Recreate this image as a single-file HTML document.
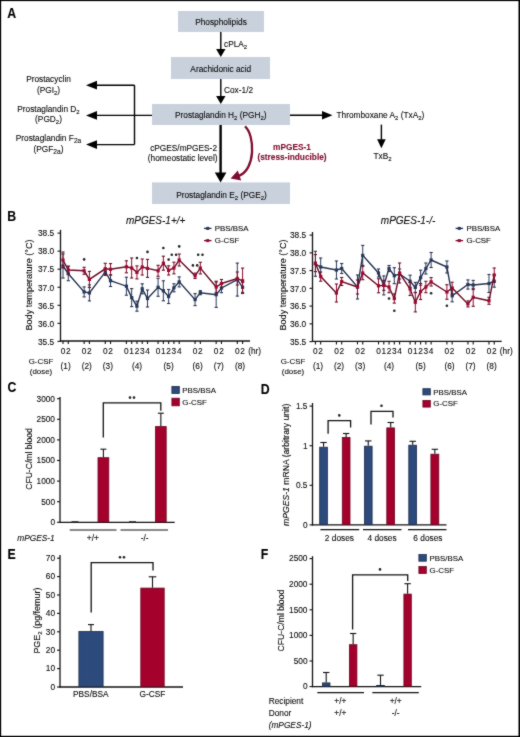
<!DOCTYPE html>
<html><head><meta charset="utf-8"><style>
html,body{margin:0;padding:0;background:#fff;}
body{width:520px;height:737px;overflow:hidden;}
svg{display:block;font-family:"Liberation Sans",sans-serif;}
text{stroke:currentColor;stroke-width:0.1px;}
</style></head><body>
<svg width="520" height="737" viewBox="0 0 520 737">
<defs><filter id="bl" x="0" y="0" width="520" height="737" filterUnits="userSpaceOnUse" color-interpolation-filters="sRGB"><feConvolveMatrix order="3" kernelMatrix="1 2 1 2 20 2 1 2 1" edgeMode="duplicate" preserveAlpha="true"/></filter></defs>
<g filter="url(#bl)">
<rect x="0" y="0" width="520" height="737" fill="#fff"/>
<text transform="translate(7.6,17.6) scale(1.06,1.2)" x="-0.3" y="0" font-size="11.6" font-weight="bold" fill="#000" style="color:#000">A</text>
<rect x="178" y="11" width="86" height="21" fill="#c9d1dc" />
<rect x="171" y="57" width="99" height="22" fill="#c9d1dc" />
<rect x="152" y="104" width="138" height="21" fill="#c9d1dc" />
<rect x="152" y="182.4" width="138" height="21.599999999999994" fill="#c9d1dc" />
<text x="221" y="25.0552" font-size="8.3" text-anchor="middle" font-weight="normal" font-style="normal" fill="#0a0a0a" style="color:#0a0a0a" >Phospholipids</text>
<text x="220.8" y="72.0552" font-size="8.3" text-anchor="middle" font-weight="normal" font-style="normal" fill="#0a0a0a" style="color:#0a0a0a" >Arachidonic acid</text>
<text x="220.8" y="118.1552" font-size="8.3" text-anchor="middle" font-weight="normal" font-style="normal" fill="#0a0a0a" style="color:#0a0a0a" >Prostaglandin H<tspan font-size="5.98" dy="2.2">2</tspan><tspan dy="-2.2">&#8203;</tspan> (PGH<tspan font-size="5.98" dy="2.2">2</tspan><tspan dy="-2.2">&#8203;</tspan>)</text>
<text x="221.5" y="197.55519999999999" font-size="8.3" text-anchor="middle" font-weight="normal" font-style="normal" fill="#0a0a0a" style="color:#0a0a0a" >Prostaglandin E<tspan font-size="5.98" dy="2.2">2</tspan><tspan dy="-2.2">&#8203;</tspan> (PGE<tspan font-size="5.98" dy="2.2">2</tspan><tspan dy="-2.2">&#8203;</tspan>)</text>
<text x="224" y="46.855199999999996" font-size="8.3" text-anchor="start" font-weight="normal" font-style="normal" fill="#0a0a0a" style="color:#0a0a0a" >cPLA<tspan font-size="5.98" dy="2.2">2</tspan><tspan dy="-2.2">&#8203;</tspan></text>
<text x="224" y="93.2552" font-size="8.3" text-anchor="start" font-weight="normal" font-style="normal" fill="#0a0a0a" style="color:#0a0a0a" >Cox-1/2</text>
<line x1="220.8" y1="32" x2="220.8" y2="49.5" stroke="#000" stroke-width="1.4" />
<polygon points="216.10000000000002,49 225.5,49 220.8,57" fill="#000"/>
<line x1="220.8" y1="79" x2="220.8" y2="96.5" stroke="#000" stroke-width="1.4" />
<polygon points="216.10000000000002,96 225.5,96 220.8,104" fill="#000"/>
<line x1="220.6" y1="125" x2="220.6" y2="173.0" stroke="#000" stroke-width="2.4" />
<polygon points="214.79999999999998,172.5 226.4,172.5 220.6,182.5" fill="#000"/>
<line x1="152" y1="115.4" x2="96.5" y2="115.4" stroke="#000" stroke-width="1.4" />
<polygon points="97,111.0 97,119.80000000000001 86,115.4" fill="#000"/>
<line x1="134.5" y1="85.2" x2="134.5" y2="144.6" stroke="#000" stroke-width="1.4" />
<line x1="134.5" y1="85.2" x2="96.5" y2="85.2" stroke="#000" stroke-width="1.4" />
<polygon points="97,80.8 97,89.60000000000001 86,85.2" fill="#000"/>
<line x1="134.5" y1="144.6" x2="96.5" y2="144.6" stroke="#000" stroke-width="1.4" />
<polygon points="97,140.2 97,149.0 86,144.6" fill="#000"/>
<line x1="290" y1="115.2" x2="322.5" y2="115.2" stroke="#000" stroke-width="1.4" />
<polygon points="322.0,110.9 322.0,119.5 332.5,115.2" fill="#000"/>
<line x1="381.4" y1="124.6" x2="381.4" y2="139.8" stroke="#000" stroke-width="1.4" />
<polygon points="377.09999999999997,139.3 385.7,139.3 381.4,148.3" fill="#000"/>
<text x="48.5" y="82.0552" font-size="8.3" text-anchor="middle" font-weight="normal" font-style="normal" fill="#0a0a0a" style="color:#0a0a0a" >Prostacyclin</text>
<text x="48.5" y="92.7552" font-size="8.3" text-anchor="middle" font-weight="normal" font-style="normal" fill="#0a0a0a" style="color:#0a0a0a" >(PGI<tspan font-size="5.98" dy="2.2">2</tspan><tspan dy="-2.2">&#8203;</tspan>)</text>
<text x="48.5" y="111.7552" font-size="8.3" text-anchor="middle" font-weight="normal" font-style="normal" fill="#0a0a0a" style="color:#0a0a0a" >Prostaglandin D<tspan font-size="5.98" dy="2.2">2</tspan><tspan dy="-2.2">&#8203;</tspan></text>
<text x="48.5" y="122.0552" font-size="8.3" text-anchor="middle" font-weight="normal" font-style="normal" fill="#0a0a0a" style="color:#0a0a0a" >(PGD<tspan font-size="5.98" dy="2.2">2</tspan><tspan dy="-2.2">&#8203;</tspan>)</text>
<text x="48.5" y="141.15519999999998" font-size="8.3" text-anchor="middle" font-weight="normal" font-style="normal" fill="#0a0a0a" style="color:#0a0a0a" >Prostaglandin F<tspan font-size="6.64" dy="2.0">2a</tspan><tspan dy="-2.0">&#8203;</tspan></text>
<text x="48.5" y="152.05519999999999" font-size="8.3" text-anchor="middle" font-weight="normal" font-style="normal" fill="#0a0a0a" style="color:#0a0a0a" >(PGF<tspan font-size="6.64" dy="2.0">2a</tspan><tspan dy="-2.0">&#8203;</tspan>)</text>
<text x="217" y="150.8552" font-size="8.3" text-anchor="end" font-weight="normal" font-style="normal" fill="#0a0a0a" style="color:#0a0a0a" >cPGES/mPGES-2</text>
<text x="217.5" y="160.55519999999999" font-size="8.3" text-anchor="end" font-weight="normal" font-style="normal" fill="#0a0a0a" style="color:#0a0a0a" >(homeostatic level)</text>
<text x="336.5" y="118.1552" font-size="8.3" text-anchor="start" font-weight="normal" font-style="normal" fill="#0a0a0a" style="color:#0a0a0a" >Thromboxane A<tspan font-size="5.98" dy="2.2">2</tspan><tspan dy="-2.2">&#8203;</tspan> (TxA<tspan font-size="5.98" dy="2.2">2</tspan><tspan dy="-2.2">&#8203;</tspan>)</text>
<text x="373.5" y="159.05519999999999" font-size="8.3" text-anchor="start" font-weight="normal" font-style="normal" fill="#0a0a0a" style="color:#0a0a0a" >TxB<tspan font-size="5.98" dy="2.2">2</tspan><tspan dy="-2.2">&#8203;</tspan></text>
<text x="292" y="149.55519999999999" font-size="8.3" text-anchor="middle" font-weight="bold" font-style="normal" fill="#7f0c2f" style="color:#7f0c2f" >mPGES-1</text>
<text x="292" y="159.8552" font-size="8.3" text-anchor="middle" font-weight="bold" font-style="normal" fill="#7f0c2f" style="color:#7f0c2f" >(stress-inducible)</text>
<path d="M245,126.4 C255,135 256,170 238.5,175.8" fill="none" stroke="#7f0c2f" stroke-width="2.3"/>
<polygon points="230.6,178.5 237.8,170.6 241.2,180.5" fill="#7f0c2f"/>
<text transform="translate(7.6,220.8) scale(1.06,1.2)" x="-0.3" y="0" font-size="11.6" font-weight="bold" fill="#000" style="color:#000">B</text>
<line x1="60.5" y1="229.8" x2="60.5" y2="341.5" stroke="#111" stroke-width="1.3" />
<line x1="59.9" y1="341" x2="250.088" y2="341" stroke="#111" stroke-width="1.3" />
<line x1="57.5" y1="233.1" x2="60.5" y2="233.1" stroke="#111" stroke-width="1.1" />
<text x="54.1" y="236.3552" font-size="8.3" text-anchor="end" font-weight="normal" font-style="normal" fill="#0a0a0a" style="color:#0a0a0a" >38.5</text>
<line x1="57.5" y1="251.15" x2="60.5" y2="251.15" stroke="#111" stroke-width="1.1" />
<text x="54.1" y="254.4052" font-size="8.3" text-anchor="end" font-weight="normal" font-style="normal" fill="#0a0a0a" style="color:#0a0a0a" >38.0</text>
<line x1="57.5" y1="269.2" x2="60.5" y2="269.2" stroke="#111" stroke-width="1.1" />
<text x="54.1" y="272.4552" font-size="8.3" text-anchor="end" font-weight="normal" font-style="normal" fill="#0a0a0a" style="color:#0a0a0a" >37.5</text>
<line x1="57.5" y1="287.25" x2="60.5" y2="287.25" stroke="#111" stroke-width="1.1" />
<text x="54.1" y="290.5052" font-size="8.3" text-anchor="end" font-weight="normal" font-style="normal" fill="#0a0a0a" style="color:#0a0a0a" >37.0</text>
<line x1="57.5" y1="305.3" x2="60.5" y2="305.3" stroke="#111" stroke-width="1.1" />
<text x="54.1" y="308.5552" font-size="8.3" text-anchor="end" font-weight="normal" font-style="normal" fill="#0a0a0a" style="color:#0a0a0a" >36.5</text>
<line x1="57.5" y1="323.35" x2="60.5" y2="323.35" stroke="#111" stroke-width="1.1" />
<text x="54.1" y="326.6052" font-size="8.3" text-anchor="end" font-weight="normal" font-style="normal" fill="#0a0a0a" style="color:#0a0a0a" >36.0</text>
<line x1="57.5" y1="341.4" x2="60.5" y2="341.4" stroke="#111" stroke-width="1.1" />
<text x="54.1" y="344.6552" font-size="8.3" text-anchor="end" font-weight="normal" font-style="normal" fill="#0a0a0a" style="color:#0a0a0a" >35.5</text>
<line x1="63.0" y1="341" x2="63.0" y2="344" stroke="#111" stroke-width="1.1" />
<line x1="68.282" y1="341" x2="68.282" y2="344" stroke="#111" stroke-width="1.1" />
<line x1="84.128" y1="341" x2="84.128" y2="344" stroke="#111" stroke-width="1.1" />
<line x1="89.41" y1="341" x2="89.41" y2="344" stroke="#111" stroke-width="1.1" />
<line x1="105.256" y1="341" x2="105.256" y2="344" stroke="#111" stroke-width="1.1" />
<line x1="110.538" y1="341" x2="110.538" y2="344" stroke="#111" stroke-width="1.1" />
<line x1="126.384" y1="341" x2="126.384" y2="344" stroke="#111" stroke-width="1.1" />
<line x1="131.666" y1="341" x2="131.666" y2="344" stroke="#111" stroke-width="1.1" />
<line x1="136.948" y1="341" x2="136.948" y2="344" stroke="#111" stroke-width="1.1" />
<line x1="142.23000000000002" y1="341" x2="142.23000000000002" y2="344" stroke="#111" stroke-width="1.1" />
<line x1="147.512" y1="341" x2="147.512" y2="344" stroke="#111" stroke-width="1.1" />
<line x1="158.076" y1="341" x2="158.076" y2="344" stroke="#111" stroke-width="1.1" />
<line x1="163.358" y1="341" x2="163.358" y2="344" stroke="#111" stroke-width="1.1" />
<line x1="168.64" y1="341" x2="168.64" y2="344" stroke="#111" stroke-width="1.1" />
<line x1="173.922" y1="341" x2="173.922" y2="344" stroke="#111" stroke-width="1.1" />
<line x1="179.204" y1="341" x2="179.204" y2="344" stroke="#111" stroke-width="1.1" />
<line x1="195.05" y1="341" x2="195.05" y2="344" stroke="#111" stroke-width="1.1" />
<line x1="200.332" y1="341" x2="200.332" y2="344" stroke="#111" stroke-width="1.1" />
<line x1="216.178" y1="341" x2="216.178" y2="344" stroke="#111" stroke-width="1.1" />
<line x1="221.46" y1="341" x2="221.46" y2="344" stroke="#111" stroke-width="1.1" />
<line x1="237.306" y1="341" x2="237.306" y2="344" stroke="#111" stroke-width="1.1" />
<line x1="242.588" y1="341" x2="242.588" y2="344" stroke="#111" stroke-width="1.1" />
<text x="63.0" y="353.8552" font-size="8.3" text-anchor="middle" font-weight="normal" font-style="normal" fill="#0a0a0a" style="color:#0a0a0a" >0</text>
<text x="68.282" y="353.8552" font-size="8.3" text-anchor="middle" font-weight="normal" font-style="normal" fill="#0a0a0a" style="color:#0a0a0a" >2</text>
<text x="84.128" y="353.8552" font-size="8.3" text-anchor="middle" font-weight="normal" font-style="normal" fill="#0a0a0a" style="color:#0a0a0a" >0</text>
<text x="89.41" y="353.8552" font-size="8.3" text-anchor="middle" font-weight="normal" font-style="normal" fill="#0a0a0a" style="color:#0a0a0a" >2</text>
<text x="105.256" y="353.8552" font-size="8.3" text-anchor="middle" font-weight="normal" font-style="normal" fill="#0a0a0a" style="color:#0a0a0a" >0</text>
<text x="110.538" y="353.8552" font-size="8.3" text-anchor="middle" font-weight="normal" font-style="normal" fill="#0a0a0a" style="color:#0a0a0a" >2</text>
<text x="126.384" y="353.8552" font-size="8.3" text-anchor="middle" font-weight="normal" font-style="normal" fill="#0a0a0a" style="color:#0a0a0a" >0</text>
<text x="131.666" y="353.8552" font-size="8.3" text-anchor="middle" font-weight="normal" font-style="normal" fill="#0a0a0a" style="color:#0a0a0a" >1</text>
<text x="136.948" y="353.8552" font-size="8.3" text-anchor="middle" font-weight="normal" font-style="normal" fill="#0a0a0a" style="color:#0a0a0a" >2</text>
<text x="142.23000000000002" y="353.8552" font-size="8.3" text-anchor="middle" font-weight="normal" font-style="normal" fill="#0a0a0a" style="color:#0a0a0a" >3</text>
<text x="147.512" y="353.8552" font-size="8.3" text-anchor="middle" font-weight="normal" font-style="normal" fill="#0a0a0a" style="color:#0a0a0a" >4</text>
<text x="158.076" y="353.8552" font-size="8.3" text-anchor="middle" font-weight="normal" font-style="normal" fill="#0a0a0a" style="color:#0a0a0a" >0</text>
<text x="163.358" y="353.8552" font-size="8.3" text-anchor="middle" font-weight="normal" font-style="normal" fill="#0a0a0a" style="color:#0a0a0a" >1</text>
<text x="168.64" y="353.8552" font-size="8.3" text-anchor="middle" font-weight="normal" font-style="normal" fill="#0a0a0a" style="color:#0a0a0a" >2</text>
<text x="173.922" y="353.8552" font-size="8.3" text-anchor="middle" font-weight="normal" font-style="normal" fill="#0a0a0a" style="color:#0a0a0a" >3</text>
<text x="179.204" y="353.8552" font-size="8.3" text-anchor="middle" font-weight="normal" font-style="normal" fill="#0a0a0a" style="color:#0a0a0a" >4</text>
<text x="195.05" y="353.8552" font-size="8.3" text-anchor="middle" font-weight="normal" font-style="normal" fill="#0a0a0a" style="color:#0a0a0a" >0</text>
<text x="200.332" y="353.8552" font-size="8.3" text-anchor="middle" font-weight="normal" font-style="normal" fill="#0a0a0a" style="color:#0a0a0a" >2</text>
<text x="216.178" y="353.8552" font-size="8.3" text-anchor="middle" font-weight="normal" font-style="normal" fill="#0a0a0a" style="color:#0a0a0a" >0</text>
<text x="221.46" y="353.8552" font-size="8.3" text-anchor="middle" font-weight="normal" font-style="normal" fill="#0a0a0a" style="color:#0a0a0a" >2</text>
<text x="237.306" y="353.8552" font-size="8.3" text-anchor="middle" font-weight="normal" font-style="normal" fill="#0a0a0a" style="color:#0a0a0a" >0</text>
<text x="242.588" y="353.8552" font-size="8.3" text-anchor="middle" font-weight="normal" font-style="normal" fill="#0a0a0a" style="color:#0a0a0a" >2</text>
<text x="248.188" y="353.8552" font-size="8.3" text-anchor="start" font-weight="normal" font-style="normal" fill="#0a0a0a" style="color:#0a0a0a" >(hr)</text>
<text x="65.641" y="368.8552" font-size="8.3" text-anchor="middle" font-weight="normal" font-style="normal" fill="#0a0a0a" style="color:#0a0a0a" >(1)</text>
<text x="86.769" y="368.8552" font-size="8.3" text-anchor="middle" font-weight="normal" font-style="normal" fill="#0a0a0a" style="color:#0a0a0a" >(2)</text>
<text x="107.89699999999999" y="368.8552" font-size="8.3" text-anchor="middle" font-weight="normal" font-style="normal" fill="#0a0a0a" style="color:#0a0a0a" >(3)</text>
<text x="136.948" y="368.8552" font-size="8.3" text-anchor="middle" font-weight="normal" font-style="normal" fill="#0a0a0a" style="color:#0a0a0a" >(4)</text>
<text x="168.64" y="368.8552" font-size="8.3" text-anchor="middle" font-weight="normal" font-style="normal" fill="#0a0a0a" style="color:#0a0a0a" >(5)</text>
<text x="197.691" y="368.8552" font-size="8.3" text-anchor="middle" font-weight="normal" font-style="normal" fill="#0a0a0a" style="color:#0a0a0a" >(6)</text>
<text x="218.819" y="368.8552" font-size="8.3" text-anchor="middle" font-weight="normal" font-style="normal" fill="#0a0a0a" style="color:#0a0a0a" >(7)</text>
<text x="239.947" y="368.8552" font-size="8.3" text-anchor="middle" font-weight="normal" font-style="normal" fill="#0a0a0a" style="color:#0a0a0a" >(8)</text>
<line x1="63.0" y1="254" x2="63.0" y2="278" stroke="#2c3a5c" stroke-width="1.0" />
<line x1="61.4" y1="254" x2="64.6" y2="254" stroke="#243150" stroke-width="1.1" />
<line x1="61.4" y1="278" x2="64.6" y2="278" stroke="#243150" stroke-width="1.1" />
<line x1="68.282" y1="266.7" x2="68.282" y2="280.7" stroke="#2c3a5c" stroke-width="1.0" />
<line x1="66.682" y1="266.7" x2="69.88199999999999" y2="266.7" stroke="#243150" stroke-width="1.1" />
<line x1="66.682" y1="280.7" x2="69.88199999999999" y2="280.7" stroke="#243150" stroke-width="1.1" />
<line x1="84.128" y1="286.9" x2="84.128" y2="296.9" stroke="#2c3a5c" stroke-width="1.0" />
<line x1="82.528" y1="286.9" x2="85.728" y2="286.9" stroke="#243150" stroke-width="1.1" />
<line x1="82.528" y1="296.9" x2="85.728" y2="296.9" stroke="#243150" stroke-width="1.1" />
<line x1="89.41" y1="284.9" x2="89.41" y2="300.9" stroke="#2c3a5c" stroke-width="1.0" />
<line x1="87.81" y1="284.9" x2="91.00999999999999" y2="284.9" stroke="#243150" stroke-width="1.1" />
<line x1="87.81" y1="300.9" x2="91.00999999999999" y2="300.9" stroke="#243150" stroke-width="1.1" />
<line x1="105.256" y1="268.4" x2="105.256" y2="275.4" stroke="#2c3a5c" stroke-width="1.0" />
<line x1="103.656" y1="268.4" x2="106.856" y2="268.4" stroke="#243150" stroke-width="1.1" />
<line x1="103.656" y1="275.4" x2="106.856" y2="275.4" stroke="#243150" stroke-width="1.1" />
<line x1="110.538" y1="274.9" x2="110.538" y2="286.5" stroke="#2c3a5c" stroke-width="1.0" />
<line x1="108.938" y1="274.9" x2="112.13799999999999" y2="274.9" stroke="#243150" stroke-width="1.1" />
<line x1="108.938" y1="286.5" x2="112.13799999999999" y2="286.5" stroke="#243150" stroke-width="1.1" />
<line x1="126.384" y1="277.2" x2="126.384" y2="295.2" stroke="#2c3a5c" stroke-width="1.0" />
<line x1="124.784" y1="277.2" x2="127.984" y2="277.2" stroke="#243150" stroke-width="1.1" />
<line x1="124.784" y1="295.2" x2="127.984" y2="295.2" stroke="#243150" stroke-width="1.1" />
<line x1="131.666" y1="288.6" x2="131.666" y2="306.6" stroke="#2c3a5c" stroke-width="1.0" />
<line x1="130.066" y1="288.6" x2="133.266" y2="288.6" stroke="#243150" stroke-width="1.1" />
<line x1="130.066" y1="306.6" x2="133.266" y2="306.6" stroke="#243150" stroke-width="1.1" />
<line x1="136.948" y1="301.2" x2="136.948" y2="311.2" stroke="#2c3a5c" stroke-width="1.0" />
<line x1="135.348" y1="301.2" x2="138.548" y2="301.2" stroke="#243150" stroke-width="1.1" />
<line x1="135.348" y1="311.2" x2="138.548" y2="311.2" stroke="#243150" stroke-width="1.1" />
<line x1="142.23000000000002" y1="283.8" x2="142.23000000000002" y2="293.8" stroke="#2c3a5c" stroke-width="1.0" />
<line x1="140.63000000000002" y1="283.8" x2="143.83" y2="283.8" stroke="#243150" stroke-width="1.1" />
<line x1="140.63000000000002" y1="293.8" x2="143.83" y2="293.8" stroke="#243150" stroke-width="1.1" />
<line x1="147.512" y1="290.0" x2="147.512" y2="307.0" stroke="#2c3a5c" stroke-width="1.0" />
<line x1="145.912" y1="290.0" x2="149.112" y2="290.0" stroke="#243150" stroke-width="1.1" />
<line x1="145.912" y1="307.0" x2="149.112" y2="307.0" stroke="#243150" stroke-width="1.1" />
<line x1="158.076" y1="278.3" x2="158.076" y2="296.3" stroke="#2c3a5c" stroke-width="1.0" />
<line x1="156.476" y1="278.3" x2="159.676" y2="278.3" stroke="#243150" stroke-width="1.1" />
<line x1="156.476" y1="296.3" x2="159.676" y2="296.3" stroke="#243150" stroke-width="1.1" />
<line x1="163.358" y1="280.8" x2="163.358" y2="300.8" stroke="#2c3a5c" stroke-width="1.0" />
<line x1="161.758" y1="280.8" x2="164.958" y2="280.8" stroke="#243150" stroke-width="1.1" />
<line x1="161.758" y1="300.8" x2="164.958" y2="300.8" stroke="#243150" stroke-width="1.1" />
<line x1="168.64" y1="289.5" x2="168.64" y2="303.5" stroke="#2c3a5c" stroke-width="1.0" />
<line x1="167.04" y1="289.5" x2="170.23999999999998" y2="289.5" stroke="#243150" stroke-width="1.1" />
<line x1="167.04" y1="303.5" x2="170.23999999999998" y2="303.5" stroke="#243150" stroke-width="1.1" />
<line x1="173.922" y1="283.8" x2="173.922" y2="291.8" stroke="#2c3a5c" stroke-width="1.0" />
<line x1="172.322" y1="283.8" x2="175.522" y2="283.8" stroke="#243150" stroke-width="1.1" />
<line x1="172.322" y1="291.8" x2="175.522" y2="291.8" stroke="#243150" stroke-width="1.1" />
<line x1="179.204" y1="276.9" x2="179.204" y2="286.9" stroke="#2c3a5c" stroke-width="1.0" />
<line x1="177.604" y1="276.9" x2="180.804" y2="276.9" stroke="#243150" stroke-width="1.1" />
<line x1="177.604" y1="286.9" x2="180.804" y2="286.9" stroke="#243150" stroke-width="1.1" />
<line x1="195.05" y1="293.6" x2="195.05" y2="305.6" stroke="#2c3a5c" stroke-width="1.0" />
<line x1="193.45000000000002" y1="293.6" x2="196.65" y2="293.6" stroke="#243150" stroke-width="1.1" />
<line x1="193.45000000000002" y1="305.6" x2="196.65" y2="305.6" stroke="#243150" stroke-width="1.1" />
<line x1="200.332" y1="290.7" x2="200.332" y2="294.7" stroke="#2c3a5c" stroke-width="1.0" />
<line x1="198.732" y1="290.7" x2="201.932" y2="290.7" stroke="#243150" stroke-width="1.1" />
<line x1="198.732" y1="294.7" x2="201.932" y2="294.7" stroke="#243150" stroke-width="1.1" />
<line x1="216.178" y1="282.0" x2="216.178" y2="307.4" stroke="#2c3a5c" stroke-width="1.0" />
<line x1="214.578" y1="282.0" x2="217.778" y2="282.0" stroke="#243150" stroke-width="1.1" />
<line x1="214.578" y1="307.4" x2="217.778" y2="307.4" stroke="#243150" stroke-width="1.1" />
<line x1="221.46" y1="283.3" x2="221.46" y2="292.7" stroke="#2c3a5c" stroke-width="1.0" />
<line x1="219.86" y1="283.3" x2="223.06" y2="283.3" stroke="#243150" stroke-width="1.1" />
<line x1="219.86" y1="292.7" x2="223.06" y2="292.7" stroke="#243150" stroke-width="1.1" />
<line x1="237.306" y1="263.1" x2="237.306" y2="296.1" stroke="#2c3a5c" stroke-width="1.0" />
<line x1="235.70600000000002" y1="263.1" x2="238.906" y2="263.1" stroke="#243150" stroke-width="1.1" />
<line x1="235.70600000000002" y1="296.1" x2="238.906" y2="296.1" stroke="#243150" stroke-width="1.1" />
<line x1="242.588" y1="282.3" x2="242.588" y2="292.3" stroke="#2c3a5c" stroke-width="1.0" />
<line x1="240.988" y1="282.3" x2="244.188" y2="282.3" stroke="#243150" stroke-width="1.1" />
<line x1="240.988" y1="292.3" x2="244.188" y2="292.3" stroke="#243150" stroke-width="1.1" />
<polyline points="63.0,266.0 68.3,273.7 84.1,291.9 89.4,292.9 105.3,271.9 110.5,280.7 126.4,286.2 131.7,297.6 136.9,306.2 142.2,288.8 147.5,298.5 158.1,287.3 163.4,290.8 168.6,296.5 173.9,287.8 179.2,281.9 195.1,299.6 200.3,292.7 216.2,294.7 221.5,288.0 237.3,279.6 242.6,287.3" fill="none" stroke="#243150" stroke-width="1.4"/>
<rect x="61.4" y="264.4" width="3.2" height="3.2" fill="#24365a"/>
<rect x="66.7" y="272.1" width="3.2" height="3.2" fill="#24365a"/>
<rect x="82.5" y="290.3" width="3.2" height="3.2" fill="#24365a"/>
<rect x="87.8" y="291.3" width="3.2" height="3.2" fill="#24365a"/>
<rect x="103.7" y="270.3" width="3.2" height="3.2" fill="#24365a"/>
<rect x="108.9" y="279.1" width="3.2" height="3.2" fill="#24365a"/>
<rect x="124.8" y="284.6" width="3.2" height="3.2" fill="#24365a"/>
<rect x="130.1" y="296.0" width="3.2" height="3.2" fill="#24365a"/>
<rect x="135.3" y="304.6" width="3.2" height="3.2" fill="#24365a"/>
<rect x="140.6" y="287.2" width="3.2" height="3.2" fill="#24365a"/>
<rect x="145.9" y="296.9" width="3.2" height="3.2" fill="#24365a"/>
<rect x="156.5" y="285.7" width="3.2" height="3.2" fill="#24365a"/>
<rect x="161.8" y="289.2" width="3.2" height="3.2" fill="#24365a"/>
<rect x="167.0" y="294.9" width="3.2" height="3.2" fill="#24365a"/>
<rect x="172.3" y="286.2" width="3.2" height="3.2" fill="#24365a"/>
<rect x="177.6" y="280.3" width="3.2" height="3.2" fill="#24365a"/>
<rect x="193.5" y="298.0" width="3.2" height="3.2" fill="#24365a"/>
<rect x="198.7" y="291.1" width="3.2" height="3.2" fill="#24365a"/>
<rect x="214.6" y="293.1" width="3.2" height="3.2" fill="#24365a"/>
<rect x="219.9" y="286.4" width="3.2" height="3.2" fill="#24365a"/>
<rect x="235.7" y="278.0" width="3.2" height="3.2" fill="#24365a"/>
<rect x="241.0" y="285.7" width="3.2" height="3.2" fill="#24365a"/>
<line x1="63.0" y1="252" x2="63.0" y2="268" stroke="#8a0b2e" stroke-width="1.0" />
<line x1="61.4" y1="252" x2="64.6" y2="252" stroke="#690b27" stroke-width="1.1" />
<line x1="61.4" y1="268" x2="64.6" y2="268" stroke="#690b27" stroke-width="1.1" />
<line x1="68.282" y1="266" x2="68.282" y2="274" stroke="#8a0b2e" stroke-width="1.0" />
<line x1="66.682" y1="266" x2="69.88199999999999" y2="266" stroke="#690b27" stroke-width="1.1" />
<line x1="66.682" y1="274" x2="69.88199999999999" y2="274" stroke="#690b27" stroke-width="1.1" />
<line x1="84.128" y1="267.3" x2="84.128" y2="274.3" stroke="#8a0b2e" stroke-width="1.0" />
<line x1="82.528" y1="267.3" x2="85.728" y2="267.3" stroke="#690b27" stroke-width="1.1" />
<line x1="82.528" y1="274.3" x2="85.728" y2="274.3" stroke="#690b27" stroke-width="1.1" />
<line x1="89.41" y1="271.4" x2="89.41" y2="287.4" stroke="#8a0b2e" stroke-width="1.0" />
<line x1="87.81" y1="271.4" x2="91.00999999999999" y2="271.4" stroke="#690b27" stroke-width="1.1" />
<line x1="87.81" y1="287.4" x2="91.00999999999999" y2="287.4" stroke="#690b27" stroke-width="1.1" />
<line x1="105.256" y1="263.3" x2="105.256" y2="274.3" stroke="#8a0b2e" stroke-width="1.0" />
<line x1="103.656" y1="263.3" x2="106.856" y2="263.3" stroke="#690b27" stroke-width="1.1" />
<line x1="103.656" y1="274.3" x2="106.856" y2="274.3" stroke="#690b27" stroke-width="1.1" />
<line x1="110.538" y1="263.6" x2="110.538" y2="275.0" stroke="#8a0b2e" stroke-width="1.0" />
<line x1="108.938" y1="263.6" x2="112.13799999999999" y2="263.6" stroke="#690b27" stroke-width="1.1" />
<line x1="108.938" y1="275.0" x2="112.13799999999999" y2="275.0" stroke="#690b27" stroke-width="1.1" />
<line x1="126.384" y1="260.8" x2="126.384" y2="272.8" stroke="#8a0b2e" stroke-width="1.0" />
<line x1="124.784" y1="260.8" x2="127.984" y2="260.8" stroke="#690b27" stroke-width="1.1" />
<line x1="124.784" y1="272.8" x2="127.984" y2="272.8" stroke="#690b27" stroke-width="1.1" />
<line x1="131.666" y1="258" x2="131.666" y2="278" stroke="#8a0b2e" stroke-width="1.0" />
<line x1="130.066" y1="258" x2="133.266" y2="258" stroke="#690b27" stroke-width="1.1" />
<line x1="130.066" y1="278" x2="133.266" y2="278" stroke="#690b27" stroke-width="1.1" />
<line x1="136.948" y1="265.9" x2="136.948" y2="278.9" stroke="#8a0b2e" stroke-width="1.0" />
<line x1="135.348" y1="265.9" x2="138.548" y2="265.9" stroke="#690b27" stroke-width="1.1" />
<line x1="135.348" y1="278.9" x2="138.548" y2="278.9" stroke="#690b27" stroke-width="1.1" />
<line x1="142.23000000000002" y1="259" x2="142.23000000000002" y2="275" stroke="#8a0b2e" stroke-width="1.0" />
<line x1="140.63000000000002" y1="259" x2="143.83" y2="259" stroke="#690b27" stroke-width="1.1" />
<line x1="140.63000000000002" y1="275" x2="143.83" y2="275" stroke="#690b27" stroke-width="1.1" />
<line x1="147.512" y1="259.4" x2="147.512" y2="277.4" stroke="#8a0b2e" stroke-width="1.0" />
<line x1="145.912" y1="259.4" x2="149.112" y2="259.4" stroke="#690b27" stroke-width="1.1" />
<line x1="145.912" y1="277.4" x2="149.112" y2="277.4" stroke="#690b27" stroke-width="1.1" />
<line x1="158.076" y1="265.3" x2="158.076" y2="276.3" stroke="#8a0b2e" stroke-width="1.0" />
<line x1="156.476" y1="265.3" x2="159.676" y2="265.3" stroke="#690b27" stroke-width="1.1" />
<line x1="156.476" y1="276.3" x2="159.676" y2="276.3" stroke="#690b27" stroke-width="1.1" />
<line x1="163.358" y1="256.2" x2="163.358" y2="270.2" stroke="#8a0b2e" stroke-width="1.0" />
<line x1="161.758" y1="256.2" x2="164.958" y2="256.2" stroke="#690b27" stroke-width="1.1" />
<line x1="161.758" y1="270.2" x2="164.958" y2="270.2" stroke="#690b27" stroke-width="1.1" />
<line x1="168.64" y1="265.79999999999995" x2="168.64" y2="275.0" stroke="#8a0b2e" stroke-width="1.0" />
<line x1="167.04" y1="265.79999999999995" x2="170.23999999999998" y2="265.79999999999995" stroke="#690b27" stroke-width="1.1" />
<line x1="167.04" y1="275.0" x2="170.23999999999998" y2="275.0" stroke="#690b27" stroke-width="1.1" />
<line x1="173.922" y1="262.2" x2="173.922" y2="273.8" stroke="#8a0b2e" stroke-width="1.0" />
<line x1="172.322" y1="262.2" x2="175.522" y2="262.2" stroke="#690b27" stroke-width="1.1" />
<line x1="172.322" y1="273.8" x2="175.522" y2="273.8" stroke="#690b27" stroke-width="1.1" />
<line x1="179.204" y1="254" x2="179.204" y2="266" stroke="#8a0b2e" stroke-width="1.0" />
<line x1="177.604" y1="254" x2="180.804" y2="254" stroke="#690b27" stroke-width="1.1" />
<line x1="177.604" y1="266" x2="180.804" y2="266" stroke="#690b27" stroke-width="1.1" />
<line x1="195.05" y1="273.1" x2="195.05" y2="278.5" stroke="#8a0b2e" stroke-width="1.0" />
<line x1="193.45000000000002" y1="273.1" x2="196.65" y2="273.1" stroke="#690b27" stroke-width="1.1" />
<line x1="193.45000000000002" y1="278.5" x2="196.65" y2="278.5" stroke="#690b27" stroke-width="1.1" />
<line x1="200.332" y1="262.3" x2="200.332" y2="273.90000000000003" stroke="#8a0b2e" stroke-width="1.0" />
<line x1="198.732" y1="262.3" x2="201.932" y2="262.3" stroke="#690b27" stroke-width="1.1" />
<line x1="198.732" y1="273.90000000000003" x2="201.932" y2="273.90000000000003" stroke="#690b27" stroke-width="1.1" />
<line x1="216.178" y1="281.2" x2="216.178" y2="292.8" stroke="#8a0b2e" stroke-width="1.0" />
<line x1="214.578" y1="281.2" x2="217.778" y2="281.2" stroke="#690b27" stroke-width="1.1" />
<line x1="214.578" y1="292.8" x2="217.778" y2="292.8" stroke="#690b27" stroke-width="1.1" />
<line x1="221.46" y1="279.5" x2="221.46" y2="287.5" stroke="#8a0b2e" stroke-width="1.0" />
<line x1="219.86" y1="279.5" x2="223.06" y2="279.5" stroke="#690b27" stroke-width="1.1" />
<line x1="219.86" y1="287.5" x2="223.06" y2="287.5" stroke="#690b27" stroke-width="1.1" />
<line x1="237.306" y1="272.0" x2="237.306" y2="285.0" stroke="#8a0b2e" stroke-width="1.0" />
<line x1="235.70600000000002" y1="272.0" x2="238.906" y2="272.0" stroke="#690b27" stroke-width="1.1" />
<line x1="235.70600000000002" y1="285.0" x2="238.906" y2="285.0" stroke="#690b27" stroke-width="1.1" />
<line x1="242.588" y1="268.1" x2="242.588" y2="293.5" stroke="#8a0b2e" stroke-width="1.0" />
<line x1="240.988" y1="268.1" x2="244.188" y2="268.1" stroke="#690b27" stroke-width="1.1" />
<line x1="240.988" y1="293.5" x2="244.188" y2="293.5" stroke="#690b27" stroke-width="1.1" />
<polyline points="63.0,260.0 68.3,270.0 84.1,270.8 89.4,279.4 105.3,268.8 110.5,269.3 126.4,266.8 131.7,268.0 136.9,272.4 142.2,267.0 147.5,268.4 158.1,270.8 163.4,263.2 168.6,270.4 173.9,268.0 179.2,260.0 195.1,275.8 200.3,268.1 216.2,287.0 221.5,283.5 237.3,278.5 242.6,280.8" fill="none" stroke="#690b27" stroke-width="1.4"/>
<rect x="61.4" y="258.4" width="3.2" height="3.2" fill="#a0062d"/>
<rect x="66.7" y="268.4" width="3.2" height="3.2" fill="#a0062d"/>
<rect x="82.5" y="269.2" width="3.2" height="3.2" fill="#a0062d"/>
<rect x="87.8" y="277.8" width="3.2" height="3.2" fill="#a0062d"/>
<rect x="103.7" y="267.2" width="3.2" height="3.2" fill="#a0062d"/>
<rect x="108.9" y="267.7" width="3.2" height="3.2" fill="#a0062d"/>
<rect x="124.8" y="265.2" width="3.2" height="3.2" fill="#a0062d"/>
<rect x="130.1" y="266.4" width="3.2" height="3.2" fill="#a0062d"/>
<rect x="135.3" y="270.8" width="3.2" height="3.2" fill="#a0062d"/>
<rect x="140.6" y="265.4" width="3.2" height="3.2" fill="#a0062d"/>
<rect x="145.9" y="266.8" width="3.2" height="3.2" fill="#a0062d"/>
<rect x="156.5" y="269.2" width="3.2" height="3.2" fill="#a0062d"/>
<rect x="161.8" y="261.6" width="3.2" height="3.2" fill="#a0062d"/>
<rect x="167.0" y="268.8" width="3.2" height="3.2" fill="#a0062d"/>
<rect x="172.3" y="266.4" width="3.2" height="3.2" fill="#a0062d"/>
<rect x="177.6" y="258.4" width="3.2" height="3.2" fill="#a0062d"/>
<rect x="193.5" y="274.2" width="3.2" height="3.2" fill="#a0062d"/>
<rect x="198.7" y="266.5" width="3.2" height="3.2" fill="#a0062d"/>
<rect x="214.6" y="285.4" width="3.2" height="3.2" fill="#a0062d"/>
<rect x="219.9" y="281.9" width="3.2" height="3.2" fill="#a0062d"/>
<rect x="235.7" y="276.9" width="3.2" height="3.2" fill="#a0062d"/>
<rect x="241.0" y="279.2" width="3.2" height="3.2" fill="#a0062d"/>
<circle cx="84.128" cy="259.4" r="1.3" fill="#222"/>
<circle cx="136.948" cy="258" r="1.3" fill="#222"/>
<circle cx="147.512" cy="251.9" r="1.3" fill="#222"/>
<circle cx="163.358" cy="248" r="1.3" fill="#222"/>
<circle cx="168.64" cy="259.6" r="1.3" fill="#222"/>
<circle cx="171.772" cy="254.8" r="1.3" fill="#222"/>
<circle cx="176.072" cy="254.8" r="1.3" fill="#222"/>
<circle cx="179.204" cy="246.4" r="1.3" fill="#222"/>
<circle cx="192.9" cy="265.4" r="1.3" fill="#222"/>
<circle cx="197.20000000000002" cy="265.4" r="1.3" fill="#222"/>
<circle cx="198.182" cy="254.8" r="1.3" fill="#222"/>
<circle cx="202.482" cy="254.8" r="1.3" fill="#222"/>
<text x="125.9" y="224.04" font-size="10" text-anchor="start" font-weight="normal" font-style="italic" fill="#0a0a0a" style="color:#0a0a0a" >mPGES-1+/+</text>
<line x1="204" y1="228.4" x2="211.5" y2="228.4" stroke="#243150" stroke-width="1.3" />
<rect x="206.2" y="226.9" width="3" height="3" fill="#24365a"/>
<text x="214.8" y="231.1176" font-size="7.9" text-anchor="start" font-weight="normal" font-style="normal" fill="#0a0a0a" style="color:#0a0a0a" >PBS/BSA</text>
<line x1="204" y1="240.6" x2="211.5" y2="240.6" stroke="#690b27" stroke-width="1.3" />
<rect x="206.2" y="239.1" width="3" height="3" fill="#a0062d"/>
<text x="214.8" y="243.3176" font-size="7.9" text-anchor="start" font-weight="normal" font-style="normal" fill="#0a0a0a" style="color:#0a0a0a" >G-CSF</text>
<text transform="translate(29.2,285) rotate(-90)" x="0" y="3.13" font-size="9.1" text-anchor="middle" fill="#0a0a0a">Body temperature (°C)</text>
<line x1="312.5" y1="232" x2="312.5" y2="341.9" stroke="#111" stroke-width="1.3" />
<line x1="311.9" y1="341.4" x2="501.74" y2="341.4" stroke="#111" stroke-width="1.3" />
<line x1="309.5" y1="235.1" x2="312.5" y2="235.1" stroke="#111" stroke-width="1.1" />
<text x="306.1" y="238.3552" font-size="8.3" text-anchor="end" font-weight="normal" font-style="normal" fill="#0a0a0a" style="color:#0a0a0a" >38.5</text>
<line x1="309.5" y1="252.85" x2="312.5" y2="252.85" stroke="#111" stroke-width="1.1" />
<text x="306.1" y="256.10519999999997" font-size="8.3" text-anchor="end" font-weight="normal" font-style="normal" fill="#0a0a0a" style="color:#0a0a0a" >38.0</text>
<line x1="309.5" y1="270.6" x2="312.5" y2="270.6" stroke="#111" stroke-width="1.1" />
<text x="306.1" y="273.8552" font-size="8.3" text-anchor="end" font-weight="normal" font-style="normal" fill="#0a0a0a" style="color:#0a0a0a" >37.5</text>
<line x1="309.5" y1="288.35" x2="312.5" y2="288.35" stroke="#111" stroke-width="1.1" />
<text x="306.1" y="291.6052" font-size="8.3" text-anchor="end" font-weight="normal" font-style="normal" fill="#0a0a0a" style="color:#0a0a0a" >37.0</text>
<line x1="309.5" y1="306.1" x2="312.5" y2="306.1" stroke="#111" stroke-width="1.1" />
<text x="306.1" y="309.3552" font-size="8.3" text-anchor="end" font-weight="normal" font-style="normal" fill="#0a0a0a" style="color:#0a0a0a" >36.5</text>
<line x1="309.5" y1="323.85" x2="312.5" y2="323.85" stroke="#111" stroke-width="1.1" />
<text x="306.1" y="327.1052" font-size="8.3" text-anchor="end" font-weight="normal" font-style="normal" fill="#0a0a0a" style="color:#0a0a0a" >36.0</text>
<line x1="309.5" y1="341.6" x2="312.5" y2="341.6" stroke="#111" stroke-width="1.1" />
<text x="306.1" y="344.8552" font-size="8.3" text-anchor="end" font-weight="normal" font-style="normal" fill="#0a0a0a" style="color:#0a0a0a" >35.5</text>
<line x1="315.4" y1="341.4" x2="315.4" y2="344.4" stroke="#111" stroke-width="1.1" />
<line x1="320.65999999999997" y1="341.4" x2="320.65999999999997" y2="344.4" stroke="#111" stroke-width="1.1" />
<line x1="336.44" y1="341.4" x2="336.44" y2="344.4" stroke="#111" stroke-width="1.1" />
<line x1="341.7" y1="341.4" x2="341.7" y2="344.4" stroke="#111" stroke-width="1.1" />
<line x1="357.47999999999996" y1="341.4" x2="357.47999999999996" y2="344.4" stroke="#111" stroke-width="1.1" />
<line x1="362.73999999999995" y1="341.4" x2="362.73999999999995" y2="344.4" stroke="#111" stroke-width="1.1" />
<line x1="378.52" y1="341.4" x2="378.52" y2="344.4" stroke="#111" stroke-width="1.1" />
<line x1="383.78" y1="341.4" x2="383.78" y2="344.4" stroke="#111" stroke-width="1.1" />
<line x1="389.03999999999996" y1="341.4" x2="389.03999999999996" y2="344.4" stroke="#111" stroke-width="1.1" />
<line x1="394.29999999999995" y1="341.4" x2="394.29999999999995" y2="344.4" stroke="#111" stroke-width="1.1" />
<line x1="399.55999999999995" y1="341.4" x2="399.55999999999995" y2="344.4" stroke="#111" stroke-width="1.1" />
<line x1="410.08" y1="341.4" x2="410.08" y2="344.4" stroke="#111" stroke-width="1.1" />
<line x1="415.34" y1="341.4" x2="415.34" y2="344.4" stroke="#111" stroke-width="1.1" />
<line x1="420.59999999999997" y1="341.4" x2="420.59999999999997" y2="344.4" stroke="#111" stroke-width="1.1" />
<line x1="425.85999999999996" y1="341.4" x2="425.85999999999996" y2="344.4" stroke="#111" stroke-width="1.1" />
<line x1="431.12" y1="341.4" x2="431.12" y2="344.4" stroke="#111" stroke-width="1.1" />
<line x1="446.9" y1="341.4" x2="446.9" y2="344.4" stroke="#111" stroke-width="1.1" />
<line x1="452.15999999999997" y1="341.4" x2="452.15999999999997" y2="344.4" stroke="#111" stroke-width="1.1" />
<line x1="467.93999999999994" y1="341.4" x2="467.93999999999994" y2="344.4" stroke="#111" stroke-width="1.1" />
<line x1="473.19999999999993" y1="341.4" x2="473.19999999999993" y2="344.4" stroke="#111" stroke-width="1.1" />
<line x1="488.97999999999996" y1="341.4" x2="488.97999999999996" y2="344.4" stroke="#111" stroke-width="1.1" />
<line x1="494.24" y1="341.4" x2="494.24" y2="344.4" stroke="#111" stroke-width="1.1" />
<text x="315.4" y="353.8552" font-size="8.3" text-anchor="middle" font-weight="normal" font-style="normal" fill="#0a0a0a" style="color:#0a0a0a" >0</text>
<text x="320.65999999999997" y="353.8552" font-size="8.3" text-anchor="middle" font-weight="normal" font-style="normal" fill="#0a0a0a" style="color:#0a0a0a" >2</text>
<text x="336.44" y="353.8552" font-size="8.3" text-anchor="middle" font-weight="normal" font-style="normal" fill="#0a0a0a" style="color:#0a0a0a" >0</text>
<text x="341.7" y="353.8552" font-size="8.3" text-anchor="middle" font-weight="normal" font-style="normal" fill="#0a0a0a" style="color:#0a0a0a" >2</text>
<text x="357.47999999999996" y="353.8552" font-size="8.3" text-anchor="middle" font-weight="normal" font-style="normal" fill="#0a0a0a" style="color:#0a0a0a" >0</text>
<text x="362.73999999999995" y="353.8552" font-size="8.3" text-anchor="middle" font-weight="normal" font-style="normal" fill="#0a0a0a" style="color:#0a0a0a" >2</text>
<text x="378.52" y="353.8552" font-size="8.3" text-anchor="middle" font-weight="normal" font-style="normal" fill="#0a0a0a" style="color:#0a0a0a" >0</text>
<text x="383.78" y="353.8552" font-size="8.3" text-anchor="middle" font-weight="normal" font-style="normal" fill="#0a0a0a" style="color:#0a0a0a" >1</text>
<text x="389.03999999999996" y="353.8552" font-size="8.3" text-anchor="middle" font-weight="normal" font-style="normal" fill="#0a0a0a" style="color:#0a0a0a" >2</text>
<text x="394.29999999999995" y="353.8552" font-size="8.3" text-anchor="middle" font-weight="normal" font-style="normal" fill="#0a0a0a" style="color:#0a0a0a" >3</text>
<text x="399.55999999999995" y="353.8552" font-size="8.3" text-anchor="middle" font-weight="normal" font-style="normal" fill="#0a0a0a" style="color:#0a0a0a" >4</text>
<text x="410.08" y="353.8552" font-size="8.3" text-anchor="middle" font-weight="normal" font-style="normal" fill="#0a0a0a" style="color:#0a0a0a" >0</text>
<text x="415.34" y="353.8552" font-size="8.3" text-anchor="middle" font-weight="normal" font-style="normal" fill="#0a0a0a" style="color:#0a0a0a" >1</text>
<text x="420.59999999999997" y="353.8552" font-size="8.3" text-anchor="middle" font-weight="normal" font-style="normal" fill="#0a0a0a" style="color:#0a0a0a" >2</text>
<text x="425.85999999999996" y="353.8552" font-size="8.3" text-anchor="middle" font-weight="normal" font-style="normal" fill="#0a0a0a" style="color:#0a0a0a" >3</text>
<text x="431.12" y="353.8552" font-size="8.3" text-anchor="middle" font-weight="normal" font-style="normal" fill="#0a0a0a" style="color:#0a0a0a" >4</text>
<text x="446.9" y="353.8552" font-size="8.3" text-anchor="middle" font-weight="normal" font-style="normal" fill="#0a0a0a" style="color:#0a0a0a" >0</text>
<text x="452.15999999999997" y="353.8552" font-size="8.3" text-anchor="middle" font-weight="normal" font-style="normal" fill="#0a0a0a" style="color:#0a0a0a" >2</text>
<text x="467.93999999999994" y="353.8552" font-size="8.3" text-anchor="middle" font-weight="normal" font-style="normal" fill="#0a0a0a" style="color:#0a0a0a" >0</text>
<text x="473.19999999999993" y="353.8552" font-size="8.3" text-anchor="middle" font-weight="normal" font-style="normal" fill="#0a0a0a" style="color:#0a0a0a" >2</text>
<text x="488.97999999999996" y="353.8552" font-size="8.3" text-anchor="middle" font-weight="normal" font-style="normal" fill="#0a0a0a" style="color:#0a0a0a" >0</text>
<text x="494.24" y="353.8552" font-size="8.3" text-anchor="middle" font-weight="normal" font-style="normal" fill="#0a0a0a" style="color:#0a0a0a" >2</text>
<text x="499.84000000000003" y="353.8552" font-size="8.3" text-anchor="start" font-weight="normal" font-style="normal" fill="#0a0a0a" style="color:#0a0a0a" >(hr)</text>
<text x="318.03" y="368.8552" font-size="8.3" text-anchor="middle" font-weight="normal" font-style="normal" fill="#0a0a0a" style="color:#0a0a0a" >(1)</text>
<text x="339.07" y="368.8552" font-size="8.3" text-anchor="middle" font-weight="normal" font-style="normal" fill="#0a0a0a" style="color:#0a0a0a" >(2)</text>
<text x="360.10999999999996" y="368.8552" font-size="8.3" text-anchor="middle" font-weight="normal" font-style="normal" fill="#0a0a0a" style="color:#0a0a0a" >(3)</text>
<text x="389.03999999999996" y="368.8552" font-size="8.3" text-anchor="middle" font-weight="normal" font-style="normal" fill="#0a0a0a" style="color:#0a0a0a" >(4)</text>
<text x="420.59999999999997" y="368.8552" font-size="8.3" text-anchor="middle" font-weight="normal" font-style="normal" fill="#0a0a0a" style="color:#0a0a0a" >(5)</text>
<text x="449.53" y="368.8552" font-size="8.3" text-anchor="middle" font-weight="normal" font-style="normal" fill="#0a0a0a" style="color:#0a0a0a" >(6)</text>
<text x="470.56999999999994" y="368.8552" font-size="8.3" text-anchor="middle" font-weight="normal" font-style="normal" fill="#0a0a0a" style="color:#0a0a0a" >(7)</text>
<text x="491.60999999999996" y="368.8552" font-size="8.3" text-anchor="middle" font-weight="normal" font-style="normal" fill="#0a0a0a" style="color:#0a0a0a" >(8)</text>
<line x1="315.4" y1="251.3" x2="315.4" y2="276.3" stroke="#2c3a5c" stroke-width="1.0" />
<line x1="313.79999999999995" y1="251.3" x2="317.0" y2="251.3" stroke="#243150" stroke-width="1.1" />
<line x1="313.79999999999995" y1="276.3" x2="317.0" y2="276.3" stroke="#243150" stroke-width="1.1" />
<line x1="320.65999999999997" y1="258" x2="320.65999999999997" y2="276" stroke="#2c3a5c" stroke-width="1.0" />
<line x1="319.05999999999995" y1="258" x2="322.26" y2="258" stroke="#243150" stroke-width="1.1" />
<line x1="319.05999999999995" y1="276" x2="322.26" y2="276" stroke="#243150" stroke-width="1.1" />
<line x1="336.44" y1="261" x2="336.44" y2="279" stroke="#2c3a5c" stroke-width="1.0" />
<line x1="334.84" y1="261" x2="338.04" y2="261" stroke="#243150" stroke-width="1.1" />
<line x1="334.84" y1="279" x2="338.04" y2="279" stroke="#243150" stroke-width="1.1" />
<line x1="341.7" y1="263.5" x2="341.7" y2="273.5" stroke="#2c3a5c" stroke-width="1.0" />
<line x1="340.09999999999997" y1="263.5" x2="343.3" y2="263.5" stroke="#243150" stroke-width="1.1" />
<line x1="340.09999999999997" y1="273.5" x2="343.3" y2="273.5" stroke="#243150" stroke-width="1.1" />
<line x1="357.47999999999996" y1="275" x2="357.47999999999996" y2="299" stroke="#2c3a5c" stroke-width="1.0" />
<line x1="355.87999999999994" y1="275" x2="359.08" y2="275" stroke="#243150" stroke-width="1.1" />
<line x1="355.87999999999994" y1="299" x2="359.08" y2="299" stroke="#243150" stroke-width="1.1" />
<line x1="362.73999999999995" y1="245.4" x2="362.73999999999995" y2="265.4" stroke="#2c3a5c" stroke-width="1.0" />
<line x1="361.13999999999993" y1="245.4" x2="364.34" y2="245.4" stroke="#243150" stroke-width="1.1" />
<line x1="361.13999999999993" y1="265.4" x2="364.34" y2="265.4" stroke="#243150" stroke-width="1.1" />
<line x1="378.52" y1="269" x2="378.52" y2="277" stroke="#2c3a5c" stroke-width="1.0" />
<line x1="376.91999999999996" y1="269" x2="380.12" y2="269" stroke="#243150" stroke-width="1.1" />
<line x1="376.91999999999996" y1="277" x2="380.12" y2="277" stroke="#243150" stroke-width="1.1" />
<line x1="383.78" y1="275.9" x2="383.78" y2="294.9" stroke="#2c3a5c" stroke-width="1.0" />
<line x1="382.17999999999995" y1="275.9" x2="385.38" y2="275.9" stroke="#243150" stroke-width="1.1" />
<line x1="382.17999999999995" y1="294.9" x2="385.38" y2="294.9" stroke="#243150" stroke-width="1.1" />
<line x1="389.03999999999996" y1="265.5" x2="389.03999999999996" y2="271.5" stroke="#2c3a5c" stroke-width="1.0" />
<line x1="387.43999999999994" y1="265.5" x2="390.64" y2="265.5" stroke="#243150" stroke-width="1.1" />
<line x1="387.43999999999994" y1="271.5" x2="390.64" y2="271.5" stroke="#243150" stroke-width="1.1" />
<line x1="394.29999999999995" y1="267.7" x2="394.29999999999995" y2="283.7" stroke="#2c3a5c" stroke-width="1.0" />
<line x1="392.69999999999993" y1="267.7" x2="395.9" y2="267.7" stroke="#243150" stroke-width="1.1" />
<line x1="392.69999999999993" y1="283.7" x2="395.9" y2="283.7" stroke="#243150" stroke-width="1.1" />
<line x1="399.55999999999995" y1="269" x2="399.55999999999995" y2="279" stroke="#2c3a5c" stroke-width="1.0" />
<line x1="397.9599999999999" y1="269" x2="401.15999999999997" y2="269" stroke="#243150" stroke-width="1.1" />
<line x1="397.9599999999999" y1="279" x2="401.15999999999997" y2="279" stroke="#243150" stroke-width="1.1" />
<line x1="410.08" y1="275.2" x2="410.08" y2="287.2" stroke="#2c3a5c" stroke-width="1.0" />
<line x1="408.47999999999996" y1="275.2" x2="411.68" y2="275.2" stroke="#243150" stroke-width="1.1" />
<line x1="408.47999999999996" y1="287.2" x2="411.68" y2="287.2" stroke="#243150" stroke-width="1.1" />
<line x1="415.34" y1="282.4" x2="415.34" y2="292.4" stroke="#2c3a5c" stroke-width="1.0" />
<line x1="413.73999999999995" y1="282.4" x2="416.94" y2="282.4" stroke="#243150" stroke-width="1.1" />
<line x1="413.73999999999995" y1="292.4" x2="416.94" y2="292.4" stroke="#243150" stroke-width="1.1" />
<line x1="420.59999999999997" y1="270.2" x2="420.59999999999997" y2="285.2" stroke="#2c3a5c" stroke-width="1.0" />
<line x1="418.99999999999994" y1="270.2" x2="422.2" y2="270.2" stroke="#243150" stroke-width="1.1" />
<line x1="418.99999999999994" y1="285.2" x2="422.2" y2="285.2" stroke="#243150" stroke-width="1.1" />
<line x1="425.85999999999996" y1="263.0" x2="425.85999999999996" y2="274.0" stroke="#2c3a5c" stroke-width="1.0" />
<line x1="424.25999999999993" y1="263.0" x2="427.46" y2="263.0" stroke="#243150" stroke-width="1.1" />
<line x1="424.25999999999993" y1="274.0" x2="427.46" y2="274.0" stroke="#243150" stroke-width="1.1" />
<line x1="431.12" y1="252.5" x2="431.12" y2="267.5" stroke="#2c3a5c" stroke-width="1.0" />
<line x1="429.52" y1="252.5" x2="432.72" y2="252.5" stroke="#243150" stroke-width="1.1" />
<line x1="429.52" y1="267.5" x2="432.72" y2="267.5" stroke="#243150" stroke-width="1.1" />
<line x1="446.9" y1="261" x2="446.9" y2="273" stroke="#2c3a5c" stroke-width="1.0" />
<line x1="445.29999999999995" y1="261" x2="448.5" y2="261" stroke="#243150" stroke-width="1.1" />
<line x1="445.29999999999995" y1="273" x2="448.5" y2="273" stroke="#243150" stroke-width="1.1" />
<line x1="452.15999999999997" y1="289.8" x2="452.15999999999997" y2="301.8" stroke="#2c3a5c" stroke-width="1.0" />
<line x1="450.55999999999995" y1="289.8" x2="453.76" y2="289.8" stroke="#243150" stroke-width="1.1" />
<line x1="450.55999999999995" y1="301.8" x2="453.76" y2="301.8" stroke="#243150" stroke-width="1.1" />
<line x1="467.93999999999994" y1="279.9" x2="467.93999999999994" y2="289.1" stroke="#2c3a5c" stroke-width="1.0" />
<line x1="466.3399999999999" y1="279.9" x2="469.53999999999996" y2="279.9" stroke="#243150" stroke-width="1.1" />
<line x1="466.3399999999999" y1="289.1" x2="469.53999999999996" y2="289.1" stroke="#243150" stroke-width="1.1" />
<line x1="473.19999999999993" y1="280.4" x2="473.19999999999993" y2="289.6" stroke="#2c3a5c" stroke-width="1.0" />
<line x1="471.5999999999999" y1="280.4" x2="474.79999999999995" y2="280.4" stroke="#243150" stroke-width="1.1" />
<line x1="471.5999999999999" y1="289.6" x2="474.79999999999995" y2="289.6" stroke="#243150" stroke-width="1.1" />
<line x1="488.97999999999996" y1="274.5" x2="488.97999999999996" y2="292.5" stroke="#2c3a5c" stroke-width="1.0" />
<line x1="487.37999999999994" y1="274.5" x2="490.58" y2="274.5" stroke="#243150" stroke-width="1.1" />
<line x1="487.37999999999994" y1="292.5" x2="490.58" y2="292.5" stroke="#243150" stroke-width="1.1" />
<line x1="494.24" y1="275.2" x2="494.24" y2="287.2" stroke="#2c3a5c" stroke-width="1.0" />
<line x1="492.64" y1="275.2" x2="495.84000000000003" y2="275.2" stroke="#243150" stroke-width="1.1" />
<line x1="492.64" y1="287.2" x2="495.84000000000003" y2="287.2" stroke="#243150" stroke-width="1.1" />
<polyline points="315.4,263.8 320.7,267.0 336.4,270.0 341.7,268.5 357.5,287.0 362.7,255.4 378.5,273.0 383.8,285.4 389.0,268.5 394.3,275.7 399.6,274.0 410.1,281.2 415.3,287.4 420.6,277.7 425.9,268.5 431.1,260.0 446.9,267.0 452.2,295.8 467.9,284.5 473.2,285.0 489.0,283.5 494.2,281.2" fill="none" stroke="#243150" stroke-width="1.4"/>
<rect x="313.8" y="262.2" width="3.2" height="3.2" fill="#24365a"/>
<rect x="319.1" y="265.4" width="3.2" height="3.2" fill="#24365a"/>
<rect x="334.8" y="268.4" width="3.2" height="3.2" fill="#24365a"/>
<rect x="340.1" y="266.9" width="3.2" height="3.2" fill="#24365a"/>
<rect x="355.9" y="285.4" width="3.2" height="3.2" fill="#24365a"/>
<rect x="361.1" y="253.8" width="3.2" height="3.2" fill="#24365a"/>
<rect x="376.9" y="271.4" width="3.2" height="3.2" fill="#24365a"/>
<rect x="382.2" y="283.8" width="3.2" height="3.2" fill="#24365a"/>
<rect x="387.4" y="266.9" width="3.2" height="3.2" fill="#24365a"/>
<rect x="392.7" y="274.1" width="3.2" height="3.2" fill="#24365a"/>
<rect x="398.0" y="272.4" width="3.2" height="3.2" fill="#24365a"/>
<rect x="408.5" y="279.6" width="3.2" height="3.2" fill="#24365a"/>
<rect x="413.7" y="285.8" width="3.2" height="3.2" fill="#24365a"/>
<rect x="419.0" y="276.1" width="3.2" height="3.2" fill="#24365a"/>
<rect x="424.3" y="266.9" width="3.2" height="3.2" fill="#24365a"/>
<rect x="429.5" y="258.4" width="3.2" height="3.2" fill="#24365a"/>
<rect x="445.3" y="265.4" width="3.2" height="3.2" fill="#24365a"/>
<rect x="450.6" y="294.2" width="3.2" height="3.2" fill="#24365a"/>
<rect x="466.3" y="282.9" width="3.2" height="3.2" fill="#24365a"/>
<rect x="471.6" y="283.4" width="3.2" height="3.2" fill="#24365a"/>
<rect x="487.4" y="281.9" width="3.2" height="3.2" fill="#24365a"/>
<rect x="492.6" y="279.6" width="3.2" height="3.2" fill="#24365a"/>
<line x1="315.4" y1="254.60000000000002" x2="315.4" y2="271.6" stroke="#8a0b2e" stroke-width="1.0" />
<line x1="313.79999999999995" y1="254.60000000000002" x2="317.0" y2="254.60000000000002" stroke="#690b27" stroke-width="1.1" />
<line x1="313.79999999999995" y1="271.6" x2="317.0" y2="271.6" stroke="#690b27" stroke-width="1.1" />
<line x1="320.65999999999997" y1="272.0" x2="320.65999999999997" y2="281.20000000000005" stroke="#8a0b2e" stroke-width="1.0" />
<line x1="319.05999999999995" y1="272.0" x2="322.26" y2="272.0" stroke="#690b27" stroke-width="1.1" />
<line x1="319.05999999999995" y1="281.20000000000005" x2="322.26" y2="281.20000000000005" stroke="#690b27" stroke-width="1.1" />
<line x1="336.44" y1="284" x2="336.44" y2="302" stroke="#8a0b2e" stroke-width="1.0" />
<line x1="334.84" y1="284" x2="338.04" y2="284" stroke="#690b27" stroke-width="1.1" />
<line x1="334.84" y1="302" x2="338.04" y2="302" stroke="#690b27" stroke-width="1.1" />
<line x1="341.7" y1="277.5" x2="341.7" y2="285.5" stroke="#8a0b2e" stroke-width="1.0" />
<line x1="340.09999999999997" y1="277.5" x2="343.3" y2="277.5" stroke="#690b27" stroke-width="1.1" />
<line x1="340.09999999999997" y1="285.5" x2="343.3" y2="285.5" stroke="#690b27" stroke-width="1.1" />
<line x1="357.47999999999996" y1="280" x2="357.47999999999996" y2="294" stroke="#8a0b2e" stroke-width="1.0" />
<line x1="355.87999999999994" y1="280" x2="359.08" y2="280" stroke="#690b27" stroke-width="1.1" />
<line x1="355.87999999999994" y1="294" x2="359.08" y2="294" stroke="#690b27" stroke-width="1.1" />
<line x1="362.73999999999995" y1="266.3" x2="362.73999999999995" y2="279.7" stroke="#8a0b2e" stroke-width="1.0" />
<line x1="361.13999999999993" y1="266.3" x2="364.34" y2="266.3" stroke="#690b27" stroke-width="1.1" />
<line x1="361.13999999999993" y1="279.7" x2="364.34" y2="279.7" stroke="#690b27" stroke-width="1.1" />
<line x1="378.52" y1="278.8" x2="378.52" y2="292.8" stroke="#8a0b2e" stroke-width="1.0" />
<line x1="376.91999999999996" y1="278.8" x2="380.12" y2="278.8" stroke="#690b27" stroke-width="1.1" />
<line x1="376.91999999999996" y1="292.8" x2="380.12" y2="292.8" stroke="#690b27" stroke-width="1.1" />
<line x1="383.78" y1="280.4" x2="383.78" y2="290.4" stroke="#8a0b2e" stroke-width="1.0" />
<line x1="382.17999999999995" y1="280.4" x2="385.38" y2="280.4" stroke="#690b27" stroke-width="1.1" />
<line x1="382.17999999999995" y1="290.4" x2="385.38" y2="290.4" stroke="#690b27" stroke-width="1.1" />
<line x1="389.03999999999996" y1="281.3" x2="389.03999999999996" y2="292.7" stroke="#8a0b2e" stroke-width="1.0" />
<line x1="387.43999999999994" y1="281.3" x2="390.64" y2="281.3" stroke="#690b27" stroke-width="1.1" />
<line x1="387.43999999999994" y1="292.7" x2="390.64" y2="292.7" stroke="#690b27" stroke-width="1.1" />
<line x1="394.29999999999995" y1="293.9" x2="394.29999999999995" y2="303.1" stroke="#8a0b2e" stroke-width="1.0" />
<line x1="392.69999999999993" y1="293.9" x2="395.9" y2="293.9" stroke="#690b27" stroke-width="1.1" />
<line x1="392.69999999999993" y1="303.1" x2="395.9" y2="303.1" stroke="#690b27" stroke-width="1.1" />
<line x1="399.55999999999995" y1="263" x2="399.55999999999995" y2="283" stroke="#8a0b2e" stroke-width="1.0" />
<line x1="397.9599999999999" y1="263" x2="401.15999999999997" y2="263" stroke="#690b27" stroke-width="1.1" />
<line x1="397.9599999999999" y1="283" x2="401.15999999999997" y2="283" stroke="#690b27" stroke-width="1.1" />
<line x1="410.08" y1="282.5" x2="410.08" y2="295.5" stroke="#8a0b2e" stroke-width="1.0" />
<line x1="408.47999999999996" y1="282.5" x2="411.68" y2="282.5" stroke="#690b27" stroke-width="1.1" />
<line x1="408.47999999999996" y1="295.5" x2="411.68" y2="295.5" stroke="#690b27" stroke-width="1.1" />
<line x1="415.34" y1="292.7" x2="415.34" y2="311.90000000000003" stroke="#8a0b2e" stroke-width="1.0" />
<line x1="413.73999999999995" y1="292.7" x2="416.94" y2="292.7" stroke="#690b27" stroke-width="1.1" />
<line x1="413.73999999999995" y1="311.90000000000003" x2="416.94" y2="311.90000000000003" stroke="#690b27" stroke-width="1.1" />
<line x1="420.59999999999997" y1="283.5" x2="420.59999999999997" y2="299.5" stroke="#8a0b2e" stroke-width="1.0" />
<line x1="418.99999999999994" y1="283.5" x2="422.2" y2="283.5" stroke="#690b27" stroke-width="1.1" />
<line x1="418.99999999999994" y1="299.5" x2="422.2" y2="299.5" stroke="#690b27" stroke-width="1.1" />
<line x1="425.85999999999996" y1="281.3" x2="425.85999999999996" y2="292.7" stroke="#8a0b2e" stroke-width="1.0" />
<line x1="424.25999999999993" y1="281.3" x2="427.46" y2="281.3" stroke="#690b27" stroke-width="1.1" />
<line x1="424.25999999999993" y1="292.7" x2="427.46" y2="292.7" stroke="#690b27" stroke-width="1.1" />
<line x1="431.12" y1="277.6" x2="431.12" y2="286.0" stroke="#8a0b2e" stroke-width="1.0" />
<line x1="429.52" y1="277.6" x2="432.72" y2="277.6" stroke="#690b27" stroke-width="1.1" />
<line x1="429.52" y1="286.0" x2="432.72" y2="286.0" stroke="#690b27" stroke-width="1.1" />
<line x1="446.9" y1="284.7" x2="446.9" y2="299.3" stroke="#8a0b2e" stroke-width="1.0" />
<line x1="445.29999999999995" y1="284.7" x2="448.5" y2="284.7" stroke="#690b27" stroke-width="1.1" />
<line x1="445.29999999999995" y1="299.3" x2="448.5" y2="299.3" stroke="#690b27" stroke-width="1.1" />
<line x1="452.15999999999997" y1="282.2" x2="452.15999999999997" y2="293.8" stroke="#8a0b2e" stroke-width="1.0" />
<line x1="450.55999999999995" y1="282.2" x2="453.76" y2="282.2" stroke="#690b27" stroke-width="1.1" />
<line x1="450.55999999999995" y1="293.8" x2="453.76" y2="293.8" stroke="#690b27" stroke-width="1.1" />
<line x1="467.93999999999994" y1="300.9" x2="467.93999999999994" y2="306.9" stroke="#8a0b2e" stroke-width="1.0" />
<line x1="466.3399999999999" y1="300.9" x2="469.53999999999996" y2="300.9" stroke="#690b27" stroke-width="1.1" />
<line x1="466.3399999999999" y1="306.9" x2="469.53999999999996" y2="306.9" stroke="#690b27" stroke-width="1.1" />
<line x1="473.19999999999993" y1="288.3" x2="473.19999999999993" y2="306.3" stroke="#8a0b2e" stroke-width="1.0" />
<line x1="471.5999999999999" y1="288.3" x2="474.79999999999995" y2="288.3" stroke="#690b27" stroke-width="1.1" />
<line x1="471.5999999999999" y1="306.3" x2="474.79999999999995" y2="306.3" stroke="#690b27" stroke-width="1.1" />
<line x1="488.97999999999996" y1="297.3" x2="488.97999999999996" y2="304.3" stroke="#8a0b2e" stroke-width="1.0" />
<line x1="487.37999999999994" y1="297.3" x2="490.58" y2="297.3" stroke="#690b27" stroke-width="1.1" />
<line x1="487.37999999999994" y1="304.3" x2="490.58" y2="304.3" stroke="#690b27" stroke-width="1.1" />
<line x1="494.24" y1="268" x2="494.24" y2="282" stroke="#8a0b2e" stroke-width="1.0" />
<line x1="492.64" y1="268" x2="495.84000000000003" y2="268" stroke="#690b27" stroke-width="1.1" />
<line x1="492.64" y1="282" x2="495.84000000000003" y2="282" stroke="#690b27" stroke-width="1.1" />
<polyline points="315.4,263.1 320.7,276.6 336.4,293.0 341.7,281.5 357.5,287.0 362.7,273.0 378.5,285.8 383.8,285.4 389.0,287.0 394.3,298.5 399.6,273.0 410.1,289.0 415.3,302.3 420.6,291.5 425.9,287.0 431.1,281.8 446.9,292.0 452.2,288.0 467.9,303.9 473.2,297.3 489.0,300.8 494.2,275.0" fill="none" stroke="#690b27" stroke-width="1.4"/>
<rect x="313.8" y="261.5" width="3.2" height="3.2" fill="#a0062d"/>
<rect x="319.1" y="275.0" width="3.2" height="3.2" fill="#a0062d"/>
<rect x="334.8" y="291.4" width="3.2" height="3.2" fill="#a0062d"/>
<rect x="340.1" y="279.9" width="3.2" height="3.2" fill="#a0062d"/>
<rect x="355.9" y="285.4" width="3.2" height="3.2" fill="#a0062d"/>
<rect x="361.1" y="271.4" width="3.2" height="3.2" fill="#a0062d"/>
<rect x="376.9" y="284.2" width="3.2" height="3.2" fill="#a0062d"/>
<rect x="382.2" y="283.8" width="3.2" height="3.2" fill="#a0062d"/>
<rect x="387.4" y="285.4" width="3.2" height="3.2" fill="#a0062d"/>
<rect x="392.7" y="296.9" width="3.2" height="3.2" fill="#a0062d"/>
<rect x="398.0" y="271.4" width="3.2" height="3.2" fill="#a0062d"/>
<rect x="408.5" y="287.4" width="3.2" height="3.2" fill="#a0062d"/>
<rect x="413.7" y="300.7" width="3.2" height="3.2" fill="#a0062d"/>
<rect x="419.0" y="289.9" width="3.2" height="3.2" fill="#a0062d"/>
<rect x="424.3" y="285.4" width="3.2" height="3.2" fill="#a0062d"/>
<rect x="429.5" y="280.2" width="3.2" height="3.2" fill="#a0062d"/>
<rect x="445.3" y="290.4" width="3.2" height="3.2" fill="#a0062d"/>
<rect x="450.6" y="286.4" width="3.2" height="3.2" fill="#a0062d"/>
<rect x="466.3" y="302.3" width="3.2" height="3.2" fill="#a0062d"/>
<rect x="471.6" y="295.7" width="3.2" height="3.2" fill="#a0062d"/>
<rect x="487.4" y="299.2" width="3.2" height="3.2" fill="#a0062d"/>
<rect x="492.6" y="273.4" width="3.2" height="3.2" fill="#a0062d"/>
<circle cx="389.03999999999996" cy="298.5" r="1.3" fill="#222"/>
<circle cx="394.29999999999995" cy="310.8" r="1.3" fill="#222"/>
<circle cx="431.12" cy="293.2" r="1.3" fill="#222"/>
<circle cx="446.9" cy="305.7" r="1.3" fill="#222"/>
<text x="380.8" y="224.04" font-size="10" text-anchor="start" font-weight="normal" font-style="italic" fill="#0a0a0a" style="color:#0a0a0a" >mPGES-1-/-</text>
<line x1="455.6" y1="228.4" x2="463.1" y2="228.4" stroke="#243150" stroke-width="1.3" />
<rect x="457.8" y="226.9" width="3" height="3" fill="#24365a"/>
<text x="466.40000000000003" y="231.1176" font-size="7.9" text-anchor="start" font-weight="normal" font-style="normal" fill="#0a0a0a" style="color:#0a0a0a" >PBS/BSA</text>
<line x1="455.6" y1="240.6" x2="463.1" y2="240.6" stroke="#690b27" stroke-width="1.3" />
<rect x="457.8" y="239.1" width="3" height="3" fill="#a0062d"/>
<text x="466.40000000000003" y="243.3176" font-size="7.9" text-anchor="start" font-weight="normal" font-style="normal" fill="#0a0a0a" style="color:#0a0a0a" >G-CSF</text>
<text transform="translate(283,285) rotate(-90)" x="0" y="3.13" font-size="9.1" text-anchor="middle" fill="#0a0a0a">Body temperature (°C)</text>
<text x="41" y="363.7176" font-size="7.9" text-anchor="middle" font-weight="normal" font-style="normal" fill="#0a0a0a" style="color:#0a0a0a" >G-CSF</text>
<text x="41" y="373.5176" font-size="7.9" text-anchor="middle" font-weight="normal" font-style="normal" fill="#0a0a0a" style="color:#0a0a0a" >(dose)</text>
<text x="293" y="363.7176" font-size="7.9" text-anchor="middle" font-weight="normal" font-style="normal" fill="#0a0a0a" style="color:#0a0a0a" >G-CSF</text>
<text x="293" y="373.5176" font-size="7.9" text-anchor="middle" font-weight="normal" font-style="normal" fill="#0a0a0a" style="color:#0a0a0a" >(dose)</text>
<text transform="translate(7.8,392.2) scale(1.06,1.2)" x="-0.3" y="0" font-size="11.6" font-weight="bold" fill="#000" style="color:#000">C</text>
<line x1="60" y1="397" x2="60" y2="522.9" stroke="#111" stroke-width="1.3" />
<line x1="57" y1="522.3" x2="60" y2="522.3" stroke="#111" stroke-width="1.1" />
<text x="55" y="525.1551999999999" font-size="8.3" text-anchor="end" font-weight="normal" font-style="normal" fill="#0a0a0a" style="color:#0a0a0a" >0</text>
<line x1="57" y1="501.69999999999993" x2="60" y2="501.69999999999993" stroke="#111" stroke-width="1.1" />
<text x="55" y="504.55519999999996" font-size="8.3" text-anchor="end" font-weight="normal" font-style="normal" fill="#0a0a0a" style="color:#0a0a0a" >500</text>
<line x1="57" y1="481.09999999999997" x2="60" y2="481.09999999999997" stroke="#111" stroke-width="1.1" />
<text x="55" y="483.9552" font-size="8.3" text-anchor="end" font-weight="normal" font-style="normal" fill="#0a0a0a" style="color:#0a0a0a" >1000</text>
<line x1="57" y1="460.49999999999994" x2="60" y2="460.49999999999994" stroke="#111" stroke-width="1.1" />
<text x="55" y="463.35519999999997" font-size="8.3" text-anchor="end" font-weight="normal" font-style="normal" fill="#0a0a0a" style="color:#0a0a0a" >1500</text>
<line x1="57" y1="439.9" x2="60" y2="439.9" stroke="#111" stroke-width="1.1" />
<text x="55" y="442.7552" font-size="8.3" text-anchor="end" font-weight="normal" font-style="normal" fill="#0a0a0a" style="color:#0a0a0a" >2000</text>
<line x1="57" y1="419.29999999999995" x2="60" y2="419.29999999999995" stroke="#111" stroke-width="1.1" />
<text x="55" y="422.1552" font-size="8.3" text-anchor="end" font-weight="normal" font-style="normal" fill="#0a0a0a" style="color:#0a0a0a" >2500</text>
<line x1="57" y1="398.69999999999993" x2="60" y2="398.69999999999993" stroke="#111" stroke-width="1.1" />
<text x="55" y="401.55519999999996" font-size="8.3" text-anchor="end" font-weight="normal" font-style="normal" fill="#0a0a0a" style="color:#0a0a0a" >3000</text>
<line x1="59.4" y1="522.3" x2="174.7" y2="522.3" stroke="#111" stroke-width="1.3" />
<rect x="71.5" y="521.0999999999999" width="7" height="1.2" fill="#333" />
<rect x="129" y="521.0999999999999" width="7" height="1.2" fill="#333" />
<rect x="98.00" y="457.70" width="10.80" height="64.20" fill="#a5012d" stroke="#6a0420" stroke-width="0.8"/>
<line x1="103.4" y1="449.2" x2="103.4" y2="457.3" stroke="#111" stroke-width="1.1" />
<line x1="100.4" y1="449.2" x2="106.4" y2="449.2" stroke="#111" stroke-width="1.1" />
<rect x="155.50" y="426.60" width="10.70" height="95.30" fill="#a5012d" stroke="#6a0420" stroke-width="0.8"/>
<line x1="160.85" y1="413.2" x2="160.85" y2="426.2" stroke="#111" stroke-width="1.1" />
<line x1="157.85" y1="413.2" x2="163.85" y2="413.2" stroke="#111" stroke-width="1.1" />
<polyline points="103.3,437.5 103.3,402.8 160.8,402.8 160.8,410.8" fill="none" stroke="#111" stroke-width="1.3"/>
<circle cx="130.0" cy="397.6" r="1.3" fill="#222"/>
<circle cx="134.0" cy="397.6" r="1.3" fill="#222"/>
<rect x="171.90" y="386.40" width="7.40" height="7.00" fill="#2d4a7d" stroke="#1d2a48" stroke-width="0.8"/>
<text x="182.3" y="392.6176" font-size="7.9" text-anchor="start" font-weight="normal" font-style="normal" fill="#0a0a0a" style="color:#0a0a0a" >PBS/BSA</text>
<rect x="171.90" y="398.20" width="7.40" height="7.60" fill="#a5012d" stroke="#6a0420" stroke-width="0.8"/>
<text x="182.3" y="404.7176" font-size="7.9" text-anchor="start" font-weight="normal" font-style="normal" fill="#0a0a0a" style="color:#0a0a0a" >G-CSF</text>
<line x1="69.7" y1="530" x2="116.5" y2="530" stroke="#111" stroke-width="1.2" />
<line x1="120.5" y1="530" x2="168" y2="530" stroke="#111" stroke-width="1.2" />
<text x="17.3" y="541.3552" font-size="8.3" text-anchor="start" font-weight="normal" font-style="italic" fill="#0a0a0a" style="color:#0a0a0a" >mPGES-1</text>
<text x="92.8" y="541.3552" font-size="8.3" text-anchor="middle" font-weight="normal" font-style="normal" fill="#0a0a0a" style="color:#0a0a0a" >+/+</text>
<text x="144.7" y="541.3552" font-size="8.3" text-anchor="middle" font-weight="normal" font-style="normal" fill="#0a0a0a" style="color:#0a0a0a" >-/-</text>
<text transform="translate(29,459) rotate(-90)" x="0" y="2.96" font-size="8.6" text-anchor="middle" fill="#0a0a0a">CFU-C/ml blood</text>
<text transform="translate(261,394.3) scale(1.06,1.2)" x="-0.3" y="0" font-size="11.6" font-weight="bold" fill="#000" style="color:#000">D</text>
<line x1="312.5" y1="403" x2="312.5" y2="525.5" stroke="#111" stroke-width="1.3" />
<line x1="309.5" y1="524.9" x2="312.5" y2="524.9" stroke="#111" stroke-width="1.1" />
<text x="307.5" y="527.7552" font-size="8.3" text-anchor="end" font-weight="normal" font-style="normal" fill="#0a0a0a" style="color:#0a0a0a" >0</text>
<line x1="309.5" y1="485.29999999999995" x2="312.5" y2="485.29999999999995" stroke="#111" stroke-width="1.1" />
<text x="307.5" y="488.1552" font-size="8.3" text-anchor="end" font-weight="normal" font-style="normal" fill="#0a0a0a" style="color:#0a0a0a" >0.5</text>
<line x1="309.5" y1="445.7" x2="312.5" y2="445.7" stroke="#111" stroke-width="1.1" />
<text x="307.5" y="448.5552" font-size="8.3" text-anchor="end" font-weight="normal" font-style="normal" fill="#0a0a0a" style="color:#0a0a0a" >1</text>
<line x1="309.5" y1="406.09999999999997" x2="312.5" y2="406.09999999999997" stroke="#111" stroke-width="1.1" />
<text x="307.5" y="408.9552" font-size="8.3" text-anchor="end" font-weight="normal" font-style="normal" fill="#0a0a0a" style="color:#0a0a0a" >1.5</text>
<line x1="311.9" y1="524.9" x2="446.5" y2="524.9" stroke="#111" stroke-width="1.3" />
<rect x="319.70" y="447.20" width="7.70" height="77.30" fill="#2d4a7d" stroke="#1d2a48" stroke-width="0.8"/>
<line x1="323.55" y1="442.5" x2="323.55" y2="446.8" stroke="#111" stroke-width="1.1" />
<line x1="320.35" y1="442.5" x2="326.75" y2="442.5" stroke="#111" stroke-width="1.1" />
<rect x="342.30" y="437.40" width="7.70" height="87.10" fill="#a5012d" stroke="#6a0420" stroke-width="0.8"/>
<line x1="346.15" y1="433.5" x2="346.15" y2="437" stroke="#111" stroke-width="1.1" />
<line x1="342.95" y1="433.5" x2="349.34999999999997" y2="433.5" stroke="#111" stroke-width="1.1" />
<rect x="364.40" y="446.20" width="7.70" height="78.30" fill="#2d4a7d" stroke="#1d2a48" stroke-width="0.8"/>
<line x1="368.25" y1="440.9" x2="368.25" y2="445.8" stroke="#111" stroke-width="1.1" />
<line x1="365.05" y1="440.9" x2="371.45" y2="440.9" stroke="#111" stroke-width="1.1" />
<rect x="386.80" y="427.90" width="7.80" height="96.60" fill="#a5012d" stroke="#6a0420" stroke-width="0.8"/>
<line x1="390.7" y1="422.5" x2="390.7" y2="427.5" stroke="#111" stroke-width="1.1" />
<line x1="387.5" y1="422.5" x2="393.9" y2="422.5" stroke="#111" stroke-width="1.1" />
<rect x="408.80" y="445.20" width="7.80" height="79.30" fill="#2d4a7d" stroke="#1d2a48" stroke-width="0.8"/>
<line x1="412.7" y1="441.3" x2="412.7" y2="444.8" stroke="#111" stroke-width="1.1" />
<line x1="409.5" y1="441.3" x2="415.9" y2="441.3" stroke="#111" stroke-width="1.1" />
<rect x="430.90" y="454.20" width="7.90" height="70.30" fill="#a5012d" stroke="#6a0420" stroke-width="0.8"/>
<line x1="434.85" y1="449.3" x2="434.85" y2="453.8" stroke="#111" stroke-width="1.1" />
<line x1="431.65000000000003" y1="449.3" x2="438.05" y2="449.3" stroke="#111" stroke-width="1.1" />
<polyline points="328.1,433.7 328.1,420.7 350.6,420.7 350.6,427.4" fill="none" stroke="#111" stroke-width="1.3"/>
<circle cx="339.3" cy="415.4" r="1.3" fill="#222"/>
<polyline points="371,424.5 371,411.4 393,411.4 393,417.5" fill="none" stroke="#111" stroke-width="1.3"/>
<circle cx="381.5" cy="405.8" r="1.3" fill="#222"/>
<rect x="422.90" y="388.70" width="7.40" height="6.20" fill="#2d4a7d" stroke="#1d2a48" stroke-width="0.8"/>
<text x="433.3" y="394.5176" font-size="7.9" text-anchor="start" font-weight="normal" font-style="normal" fill="#0a0a0a" style="color:#0a0a0a" >PBS/BSA</text>
<rect x="422.90" y="400.40" width="7.40" height="6.70" fill="#a5012d" stroke="#6a0420" stroke-width="0.8"/>
<text x="433.3" y="406.4676" font-size="7.9" text-anchor="start" font-weight="normal" font-style="normal" fill="#0a0a0a" style="color:#0a0a0a" >G-CSF</text>
<line x1="320.4" y1="529.6" x2="359.2" y2="529.6" stroke="#111" stroke-width="1.2" />
<line x1="363" y1="529.6" x2="401.5" y2="529.6" stroke="#111" stroke-width="1.2" />
<line x1="408" y1="529.6" x2="446.5" y2="529.6" stroke="#111" stroke-width="1.2" />
<text x="339.4" y="540.5552" font-size="8.3" text-anchor="middle" font-weight="normal" font-style="normal" fill="#0a0a0a" style="color:#0a0a0a" >2 doses</text>
<text x="382.1" y="540.5552" font-size="8.3" text-anchor="middle" font-weight="normal" font-style="normal" fill="#0a0a0a" style="color:#0a0a0a" >4 doses</text>
<text x="427.9" y="540.5552" font-size="8.3" text-anchor="middle" font-weight="normal" font-style="normal" fill="#0a0a0a" style="color:#0a0a0a" >6 doses</text>
<text transform="translate(286.5,464.8) rotate(-90)" x="0" y="2.98" font-size="8.65" text-anchor="middle" fill="#0a0a0a"><tspan font-style="italic">mPGES-1</tspan> mRNA (arbitrary unit)</text>
<text transform="translate(7.8,558.8) scale(1.06,1.2)" x="-0.3" y="0" font-size="11.6" font-weight="bold" fill="#000" style="color:#000">E</text>
<line x1="60" y1="555" x2="60" y2="687.6" stroke="#111" stroke-width="1.3" />
<line x1="57" y1="687.0" x2="60" y2="687.0" stroke="#111" stroke-width="1.1" />
<text x="55" y="689.8552" font-size="8.3" text-anchor="end" font-weight="normal" font-style="normal" fill="#0a0a0a" style="color:#0a0a0a" >0</text>
<line x1="57" y1="668.6" x2="60" y2="668.6" stroke="#111" stroke-width="1.1" />
<text x="55" y="671.4552" font-size="8.3" text-anchor="end" font-weight="normal" font-style="normal" fill="#0a0a0a" style="color:#0a0a0a" >10</text>
<line x1="57" y1="650.2" x2="60" y2="650.2" stroke="#111" stroke-width="1.1" />
<text x="55" y="653.0552" font-size="8.3" text-anchor="end" font-weight="normal" font-style="normal" fill="#0a0a0a" style="color:#0a0a0a" >20</text>
<line x1="57" y1="631.8" x2="60" y2="631.8" stroke="#111" stroke-width="1.1" />
<text x="55" y="634.6551999999999" font-size="8.3" text-anchor="end" font-weight="normal" font-style="normal" fill="#0a0a0a" style="color:#0a0a0a" >30</text>
<line x1="57" y1="613.4" x2="60" y2="613.4" stroke="#111" stroke-width="1.1" />
<text x="55" y="616.2552" font-size="8.3" text-anchor="end" font-weight="normal" font-style="normal" fill="#0a0a0a" style="color:#0a0a0a" >40</text>
<line x1="57" y1="595.0" x2="60" y2="595.0" stroke="#111" stroke-width="1.1" />
<text x="55" y="597.8552" font-size="8.3" text-anchor="end" font-weight="normal" font-style="normal" fill="#0a0a0a" style="color:#0a0a0a" >50</text>
<line x1="57" y1="576.6" x2="60" y2="576.6" stroke="#111" stroke-width="1.1" />
<text x="55" y="579.4552" font-size="8.3" text-anchor="end" font-weight="normal" font-style="normal" fill="#0a0a0a" style="color:#0a0a0a" >60</text>
<line x1="57" y1="558.2" x2="60" y2="558.2" stroke="#111" stroke-width="1.1" />
<text x="55" y="561.0552" font-size="8.3" text-anchor="end" font-weight="normal" font-style="normal" fill="#0a0a0a" style="color:#0a0a0a" >70</text>
<line x1="59.4" y1="687" x2="183" y2="687" stroke="#111" stroke-width="1.3" />
<rect x="78.90" y="631.40" width="24.20" height="55.20" fill="#2d4a7d" stroke="#1d2a48" stroke-width="0.8"/>
<line x1="91.0" y1="624.6" x2="91.0" y2="631" stroke="#111" stroke-width="1.1" />
<line x1="88.0" y1="624.6" x2="94.0" y2="624.6" stroke="#111" stroke-width="1.1" />
<rect x="140.80" y="588.10" width="23.40" height="98.50" fill="#a5012d" stroke="#6a0420" stroke-width="0.8"/>
<line x1="152.5" y1="576.8" x2="152.5" y2="587.7" stroke="#111" stroke-width="1.1" />
<line x1="148.7" y1="576.8" x2="156.3" y2="576.8" stroke="#111" stroke-width="1.1" />
<polyline points="91.2,612.5 91.2,562.6 153,562.6 153,570.4" fill="none" stroke="#111" stroke-width="1.3"/>
<circle cx="120.0" cy="557.2" r="1.3" fill="#222"/>
<circle cx="124.0" cy="557.2" r="1.3" fill="#222"/>
<text x="90.8" y="696.6551999999999" font-size="8.3" text-anchor="middle" font-weight="normal" font-style="normal" fill="#0a0a0a" style="color:#0a0a0a" >PBS/BSA</text>
<text x="152.4" y="696.6551999999999" font-size="8.3" text-anchor="middle" font-weight="normal" font-style="normal" fill="#0a0a0a" style="color:#0a0a0a" >G-CSF</text>
<text transform="translate(36.5,620.6) rotate(-90)" x="0" y="3.08" font-size="8.95" text-anchor="middle" fill="#0a0a0a">PGE<tspan font-size="6.2" dy="2.2">2</tspan><tspan dy="-2.2"> (pg/femur)</tspan></text>
<text transform="translate(261,559.3) scale(1.06,1.2)" x="-0.3" y="0" font-size="11.6" font-weight="bold" fill="#000" style="color:#000">F</text>
<line x1="312.5" y1="556.2" x2="312.5" y2="687.2" stroke="#111" stroke-width="1.3" />
<line x1="309.5" y1="686.6" x2="312.5" y2="686.6" stroke="#111" stroke-width="1.1" />
<text x="307.5" y="689.4552" font-size="8.3" text-anchor="end" font-weight="normal" font-style="normal" fill="#0a0a0a" style="color:#0a0a0a" >0</text>
<line x1="309.5" y1="661.0" x2="312.5" y2="661.0" stroke="#111" stroke-width="1.1" />
<text x="307.5" y="663.8552" font-size="8.3" text-anchor="end" font-weight="normal" font-style="normal" fill="#0a0a0a" style="color:#0a0a0a" >500</text>
<line x1="309.5" y1="635.4" x2="312.5" y2="635.4" stroke="#111" stroke-width="1.1" />
<text x="307.5" y="638.2552" font-size="8.3" text-anchor="end" font-weight="normal" font-style="normal" fill="#0a0a0a" style="color:#0a0a0a" >1000</text>
<line x1="309.5" y1="609.8000000000001" x2="312.5" y2="609.8000000000001" stroke="#111" stroke-width="1.1" />
<text x="307.5" y="612.6552" font-size="8.3" text-anchor="end" font-weight="normal" font-style="normal" fill="#0a0a0a" style="color:#0a0a0a" >1500</text>
<line x1="309.5" y1="584.2" x2="312.5" y2="584.2" stroke="#111" stroke-width="1.1" />
<text x="307.5" y="587.0552" font-size="8.3" text-anchor="end" font-weight="normal" font-style="normal" fill="#0a0a0a" style="color:#0a0a0a" >2000</text>
<line x1="309.5" y1="558.6" x2="312.5" y2="558.6" stroke="#111" stroke-width="1.1" />
<text x="307.5" y="561.4552" font-size="8.3" text-anchor="end" font-weight="normal" font-style="normal" fill="#0a0a0a" style="color:#0a0a0a" >2500</text>
<line x1="311.9" y1="686.6" x2="421.2" y2="686.6" stroke="#111" stroke-width="1.3" />
<rect x="322.40" y="682.90" width="7.60" height="3.30" fill="#2d4a7d" stroke="#1d2a48" stroke-width="0.8"/>
<line x1="326.2" y1="672.5" x2="326.2" y2="682.5" stroke="#111" stroke-width="1.1" />
<line x1="323.0" y1="672.5" x2="329.4" y2="672.5" stroke="#111" stroke-width="1.1" />
<rect x="349.40" y="644.70" width="7.50" height="41.50" fill="#a5012d" stroke="#6a0420" stroke-width="0.8"/>
<line x1="353.15" y1="633.5" x2="353.15" y2="644.3" stroke="#111" stroke-width="1.1" />
<line x1="349.95" y1="633.5" x2="356.34999999999997" y2="633.5" stroke="#111" stroke-width="1.1" />
<rect x="376.60" y="685.60" width="7.80" height="0.60" fill="#2d4a7d" stroke="#1d2a48" stroke-width="0.8"/>
<line x1="380.5" y1="675.2" x2="380.5" y2="685.2" stroke="#111" stroke-width="1.1" />
<line x1="377.3" y1="675.2" x2="383.7" y2="675.2" stroke="#111" stroke-width="1.1" />
<rect x="403.90" y="594.10" width="7.40" height="92.10" fill="#a5012d" stroke="#6a0420" stroke-width="0.8"/>
<line x1="407.6" y1="583.7" x2="407.6" y2="593.7" stroke="#111" stroke-width="1.1" />
<line x1="404.40000000000003" y1="583.7" x2="410.8" y2="583.7" stroke="#111" stroke-width="1.1" />
<polyline points="352.6,629.5 352.6,574.8 407.7,574.8 407.7,581" fill="none" stroke="#111" stroke-width="1.3"/>
<circle cx="380" cy="569.4" r="1.3" fill="#222"/>
<rect x="418.90" y="554.60" width="7.40" height="6.60" fill="#2d4a7d" stroke="#1d2a48" stroke-width="0.8"/>
<text x="429.5" y="560.6176" font-size="7.9" text-anchor="start" font-weight="normal" font-style="normal" fill="#0a0a0a" style="color:#0a0a0a" >PBS/BSA</text>
<rect x="418.90" y="566.60" width="7.40" height="6.80" fill="#a5012d" stroke="#6a0420" stroke-width="0.8"/>
<text x="429.5" y="572.7176" font-size="7.9" text-anchor="start" font-weight="normal" font-style="normal" fill="#0a0a0a" style="color:#0a0a0a" >G-CSF</text>
<line x1="317.3" y1="692.7" x2="364" y2="692.7" stroke="#111" stroke-width="1.2" />
<line x1="372.3" y1="692.7" x2="418.8" y2="692.7" stroke="#111" stroke-width="1.2" />
<text x="268.7" y="703.6551999999999" font-size="8.3" text-anchor="start" font-weight="normal" font-style="normal" fill="#0a0a0a" style="color:#0a0a0a" >Recipient</text>
<text x="268.7" y="716.4552" font-size="8.3" text-anchor="start" font-weight="normal" font-style="normal" fill="#0a0a0a" style="color:#0a0a0a" >Donor</text>
<text x="268.7" y="727.8552" font-size="8.3" text-anchor="start" font-weight="normal" font-style="italic" fill="#0a0a0a" style="color:#0a0a0a" >(mPGES-1)</text>
<text x="340.3" y="703.6551999999999" font-size="8.3" text-anchor="middle" font-weight="normal" font-style="normal" fill="#0a0a0a" style="color:#0a0a0a" >+/+</text>
<text x="395.7" y="703.6551999999999" font-size="8.3" text-anchor="middle" font-weight="normal" font-style="normal" fill="#0a0a0a" style="color:#0a0a0a" >+/+</text>
<text x="340.3" y="716.4552" font-size="8.3" text-anchor="middle" font-weight="normal" font-style="normal" fill="#0a0a0a" style="color:#0a0a0a" >+/+</text>
<text x="395.7" y="716.4552" font-size="8.3" text-anchor="middle" font-weight="normal" font-style="normal" fill="#0a0a0a" style="color:#0a0a0a" >-/-</text>
<text transform="translate(281,620.6) rotate(-90)" x="0" y="2.96" font-size="8.6" text-anchor="middle" fill="#0a0a0a">CFU-C/ml blood</text>
<rect x="0" y="0" width="520" height="1.1" fill="#000"/><rect x="0" y="0" width="1.15" height="737" fill="#000"/><rect x="518.5" y="0" width="1.5" height="737" fill="#000"/><rect x="0" y="735.8" width="520" height="1.2" fill="#000"/>
</g>
</svg>
</body></html>
